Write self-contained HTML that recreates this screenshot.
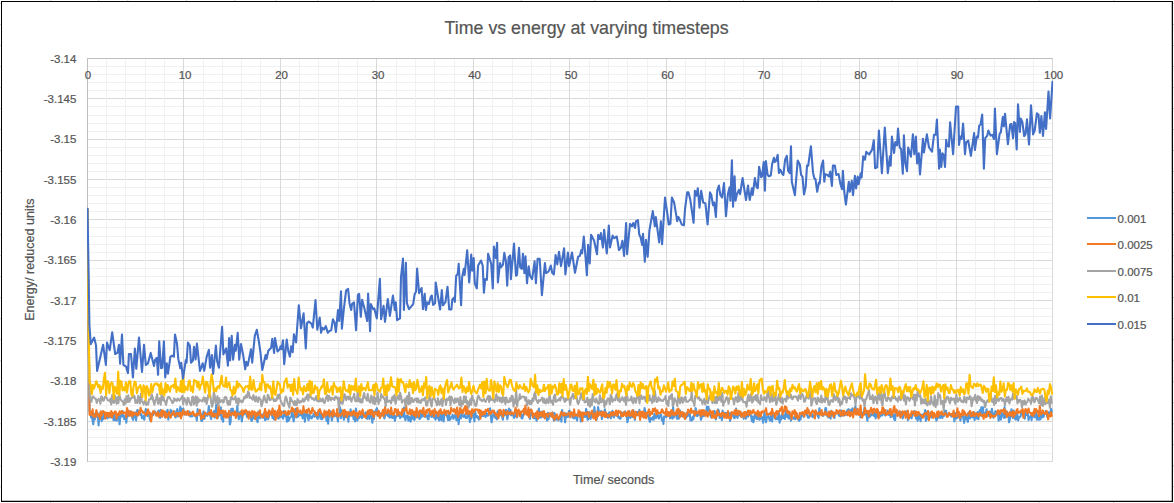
<!DOCTYPE html>
<html><head><meta charset="utf-8"><title>Time vs energy at varying timesteps</title>
<style>
html,body{margin:0;padding:0;background:#fff;}
body{width:1174px;height:503px;position:relative;overflow:hidden;font-family:"Liberation Sans",sans-serif;}
svg text{font-family:"Liberation Sans",sans-serif;fill:#555;stroke:#555;stroke-width:0.22px;}
.t{font-size:11.5px;}
.ax{font-size:12.6px;}
.ti{font-size:17.8px;}
</style></head><body>
<svg width="1174" height="503" viewBox="0 0 1174 503" style="position:absolute;left:0;top:0">
<path d="M87.0 98.5H1053.0M87.0 139.5H1053.0M87.0 179.5H1053.0M87.0 219.5H1053.0M87.0 260.5H1053.0M87.0 300.5H1053.0M87.0 340.5H1053.0M87.0 381.5H1053.0M87.0 421.5H1053.0M87.0 461.5H1053.0" stroke="#D9D9D9" stroke-width="1" fill="none"/>
<path d="M87.0 66.5H1053.0M87.0 74.5H1053.0M87.0 82.5H1053.0M87.0 90.5H1053.0M87.0 106.5H1053.0M87.0 115.5H1053.0M87.0 123.5H1053.0M87.0 131.5H1053.0M87.0 147.5H1053.0M87.0 155.5H1053.0M87.0 163.5H1053.0M87.0 171.5H1053.0M87.0 187.5H1053.0M87.0 195.5H1053.0M87.0 203.5H1053.0M87.0 211.5H1053.0M87.0 227.5H1053.0M87.0 236.5H1053.0M87.0 244.5H1053.0M87.0 252.5H1053.0M87.0 268.5H1053.0M87.0 276.5H1053.0M87.0 284.5H1053.0M87.0 292.5H1053.0M87.0 308.5H1053.0M87.0 316.5H1053.0M87.0 324.5H1053.0M87.0 332.5H1053.0M87.0 348.5H1053.0M87.0 357.5H1053.0M87.0 365.5H1053.0M87.0 373.5H1053.0M87.0 389.5H1053.0M87.0 397.5H1053.0M87.0 405.5H1053.0M87.0 413.5H1053.0M87.0 429.5H1053.0M87.0 437.5H1053.0M87.0 445.5H1053.0M87.0 453.5H1053.0" stroke="#F1F1F1" stroke-width="1" fill="none"/>
<path d="M183.5 58.0V462.0M280.5 58.0V462.0M376.5 58.0V462.0M473.5 58.0V462.0M569.5 58.0V462.0M666.5 58.0V462.0M763.5 58.0V462.0M859.5 58.0V462.0M956.5 58.0V462.0M1052.5 58.0V462.0" stroke="#D9D9D9" stroke-width="1" fill="none"/>
<path d="M106.5 58.0V462.0M125.5 58.0V462.0M145.5 58.0V462.0M164.5 58.0V462.0M203.5 58.0V462.0M222.5 58.0V462.0M241.5 58.0V462.0M260.5 58.0V462.0M299.5 58.0V462.0M318.5 58.0V462.0M338.5 58.0V462.0M357.5 58.0V462.0M396.5 58.0V462.0M415.5 58.0V462.0M434.5 58.0V462.0M454.5 58.0V462.0M492.5 58.0V462.0M512.5 58.0V462.0M531.5 58.0V462.0M550.5 58.0V462.0M589.5 58.0V462.0M608.5 58.0V462.0M627.5 58.0V462.0M647.5 58.0V462.0M685.5 58.0V462.0M705.5 58.0V462.0M724.5 58.0V462.0M743.5 58.0V462.0M782.5 58.0V462.0M801.5 58.0V462.0M820.5 58.0V462.0M840.5 58.0V462.0M878.5 58.0V462.0M898.5 58.0V462.0M917.5 58.0V462.0M936.5 58.0V462.0M975.5 58.0V462.0M994.5 58.0V462.0M1014.5 58.0V462.0M1033.5 58.0V462.0" stroke="#F1F1F1" stroke-width="1" fill="none"/>
<path d="M87.0 58.5H1053.0M87.5 58.0V462.0" stroke="#BFBFBF" stroke-width="1" fill="none"/>
<clipPath id="pc"><rect x="87" y="50" width="966.2" height="420"/></clipPath><g clip-path="url(#pc)">
<polyline points="87.5,209.0 88.2,300.0 89.6,412.1 90.3,412.4 91.1,417.4 91.8,416.2 92.6,420.6 93.3,424.2 94.1,413.7 94.8,419.5 95.6,417.0 96.3,413.2 97.1,412.0 97.8,414.2 98.6,425.5 99.3,415.0 100.1,415.5 100.8,411.5 101.6,421.3 102.3,418.0 103.1,419.2 103.8,412.6 104.6,418.3 105.3,416.1 106.1,416.8 106.8,417.9 107.6,418.3 108.3,415.6 109.1,417.2 109.8,417.3 110.6,417.4 111.3,415.7 112.1,417.2 112.8,415.7 113.6,420.2 114.3,414.5 115.1,419.9 115.8,417.8 116.6,420.8 117.3,418.4 118.1,419.5 118.8,414.5 119.6,424.3 120.3,416.2 121.1,414.7 121.8,416.4 122.6,411.1 123.3,415.6 124.1,419.1 124.8,418.5 125.6,415.4 126.3,422.6 127.1,414.6 127.8,416.5 128.6,413.1 129.3,413.0 130.1,411.4 130.8,411.4 131.6,415.2 132.3,417.7 133.1,419.9 133.8,416.1 134.6,412.5 135.3,413.6 136.1,420.5 136.8,411.2 137.6,409.8 138.3,415.0 139.1,412.9 139.8,411.0 140.6,415.1 141.3,414.1 142.1,418.3 142.8,416.7 143.6,415.9 144.3,419.8 145.1,412.4 145.8,409.1 146.6,412.4 147.3,415.9 148.1,415.3 148.8,412.2 149.6,417.9 150.3,420.6 151.1,413.6 151.8,414.7 152.6,413.9 153.3,414.9 154.1,412.4 154.8,411.3 155.6,413.3 156.3,414.4 157.1,413.7 157.8,411.9 158.6,410.5 159.3,415.4 160.1,417.9 160.8,409.9 161.6,411.4 162.3,415.6 163.1,412.3 163.8,415.0 164.6,415.2 165.3,417.4 166.1,411.6 166.8,413.8 167.6,409.7 168.3,419.7 169.1,414.9 169.8,414.7 170.6,409.7 171.3,411.2 172.1,415.0 172.8,411.5 173.6,411.4 174.3,411.3 175.1,416.8 175.8,417.3 176.6,411.1 177.3,409.0 178.1,416.4 178.8,413.9 179.6,412.3 180.3,406.9 181.1,413.1 181.8,408.8 182.6,411.3 183.3,408.6 184.1,413.6 184.8,414.6 185.6,411.8 186.3,414.0 187.1,414.4 187.8,411.9 188.6,412.8 189.3,411.5 190.1,416.4 190.8,415.0 191.6,416.5 192.3,416.2 193.1,415.5 193.8,413.8 194.6,415.5 195.3,416.3 196.1,416.2 196.8,420.4 197.6,409.1 198.3,413.2 199.1,414.6 199.8,410.3 200.6,415.0 201.3,420.8 202.1,421.1 202.8,414.5 203.6,411.3 204.3,418.9 205.1,416.0 205.8,413.2 206.6,414.3 207.3,415.9 208.1,412.3 208.8,406.1 209.6,414.6 210.3,415.4 211.1,419.0 211.8,414.4 212.6,413.6 213.3,413.5 214.1,411.1 214.8,417.6 215.6,411.4 216.3,404.6 217.1,412.3 217.8,417.9 218.6,414.1 219.3,415.4 220.1,415.0 220.8,407.4 221.6,419.1 222.3,418.6 223.1,421.8 223.8,413.6 224.6,414.6 225.3,412.4 226.1,414.1 226.8,413.4 227.6,415.5 228.3,417.3 229.1,411.2 229.8,424.4 230.6,422.0 231.3,408.7 232.1,409.6 232.8,408.6 233.6,415.2 234.3,414.5 235.1,414.9 235.8,414.5 236.6,413.3 237.3,405.9 238.1,415.4 238.8,419.3 239.6,414.0 240.3,411.8 241.1,415.2 241.8,421.5 242.6,416.2 243.3,411.7 244.1,414.2 244.8,413.4 245.6,413.0 246.3,413.0 247.1,417.0 247.8,411.8 248.6,413.5 249.3,412.9 250.1,414.3 250.8,418.6 251.6,421.0 252.3,419.5 253.1,415.1 253.8,417.9 254.6,418.4 255.3,415.2 256.1,413.4 256.9,419.9 257.6,422.2 258.4,411.6 259.1,415.4 259.9,418.2 260.6,414.8 261.4,415.2 262.1,417.4 262.9,414.6 263.6,417.8 264.4,412.4 265.1,420.1 265.9,419.4 266.6,417.2 267.4,417.0 268.1,419.3 268.9,416.6 269.6,411.5 270.4,412.9 271.1,413.3 271.9,414.7 272.6,418.0 273.4,417.4 274.1,419.5 274.9,413.8 275.6,413.7 276.4,417.9 277.1,416.3 277.9,416.4 278.6,418.8 279.4,416.1 280.1,409.9 280.9,417.0 281.6,416.3 282.4,416.4 283.1,418.7 283.9,411.1 284.6,416.3 285.4,415.0 286.1,414.9 286.9,421.7 287.6,413.2 288.4,420.9 289.1,419.9 289.9,417.5 290.6,417.2 291.4,416.4 292.1,410.2 292.9,414.5 293.6,421.5 294.4,416.5 295.1,415.6 295.9,408.9 296.6,417.4 297.4,410.5 298.1,416.8 298.9,414.2 299.6,415.1 300.4,415.2 301.1,413.8 301.9,414.2 302.6,418.4 303.4,413.3 304.1,413.5 304.9,421.6 305.6,414.5 306.4,413.8 307.1,413.1 307.9,418.2 308.6,420.1 309.4,414.3 310.1,417.8 310.9,416.4 311.6,418.5 312.4,416.9 313.1,415.7 313.9,413.6 314.6,416.8 315.4,415.0 316.1,413.0 316.9,417.3 317.6,418.9 318.4,415.4 319.1,411.0 319.9,414.7 320.6,418.8 321.4,414.2 322.1,419.3 322.9,416.6 323.6,414.2 324.4,416.0 325.1,413.2 325.9,414.9 326.6,420.9 327.4,413.1 328.1,423.7 328.9,414.9 329.6,415.0 330.4,411.4 331.1,415.1 331.9,420.5 332.6,415.3 333.4,416.2 334.1,416.5 334.9,414.8 335.6,414.6 336.4,416.2 337.1,416.0 337.9,421.4 338.6,414.0 339.4,414.7 340.1,407.2 340.9,418.2 341.6,410.3 342.4,413.0 343.1,415.7 343.9,419.7 344.6,415.7 345.4,417.0 346.1,412.8 346.9,414.2 347.6,414.6 348.4,421.7 349.1,412.5 349.9,416.0 350.6,409.3 351.4,415.4 352.1,415.1 352.9,414.4 353.6,419.2 354.4,412.8 355.1,421.4 355.9,408.6 356.6,413.4 357.4,420.6 358.1,416.4 358.9,418.2 359.6,417.0 360.4,416.4 361.1,415.1 361.9,418.3 362.6,412.4 363.4,416.6 364.1,414.2 364.9,415.4 365.6,412.3 366.4,413.5 367.1,418.9 367.9,414.2 368.6,411.8 369.4,419.0 370.1,415.7 370.9,415.0 371.6,415.7 372.4,422.8 373.1,411.3 373.9,419.0 374.6,411.8 375.4,412.6 376.1,409.8 376.9,408.2 377.6,415.5 378.4,415.7 379.1,416.2 379.9,413.0 380.6,414.3 381.4,414.0 382.1,415.6 382.9,411.9 383.6,415.0 384.4,418.4 385.1,415.6 385.9,414.8 386.6,412.4 387.4,413.9 388.1,416.2 388.9,412.7 389.6,417.6 390.4,417.1 391.1,410.6 391.9,417.7 392.6,417.9 393.4,417.8 394.1,415.0 394.9,420.9 395.6,416.4 396.4,416.6 397.1,414.8 397.9,415.8 398.6,415.8 399.4,413.9 400.1,418.1 400.9,417.1 401.6,416.3 402.4,414.0 403.1,416.7 403.9,407.5 404.6,417.3 405.4,420.2 406.1,416.1 406.9,416.2 407.6,415.7 408.4,420.6 409.1,416.7 409.9,418.8 410.6,421.7 411.4,416.6 412.1,414.6 412.9,418.8 413.6,415.6 414.4,420.0 415.1,415.9 415.9,417.4 416.6,414.5 417.4,417.4 418.1,417.2 418.9,414.2 419.6,419.1 420.4,418.3 421.1,412.4 421.9,416.7 422.6,413.8 423.4,414.6 424.1,416.4 424.9,414.9 425.6,416.8 426.4,415.3 427.1,415.3 427.9,419.3 428.6,419.2 429.4,412.6 430.1,415.6 430.9,413.5 431.6,417.0 432.4,413.4 433.1,415.1 433.9,417.7 434.6,414.7 435.4,419.6 436.1,417.4 436.9,414.1 437.6,418.2 438.4,417.5 439.1,420.5 439.9,417.4 440.6,413.1 441.4,420.1 442.1,413.3 442.9,415.4 443.6,421.5 444.4,413.6 445.1,414.5 445.9,414.0 446.6,415.4 447.4,417.0 448.1,420.1 448.9,411.8 449.6,420.0 450.4,419.1 451.1,417.5 451.9,417.0 452.6,414.9 453.4,418.8 454.1,415.6 454.9,417.0 455.6,415.3 456.4,420.2 457.1,417.8 457.9,412.9 458.6,424.1 459.4,415.7 460.1,415.3 460.9,418.4 461.6,413.2 462.4,414.9 463.1,416.4 463.9,417.0 464.6,414.7 465.4,417.1 466.1,418.0 466.9,418.0 467.6,414.6 468.4,415.9 469.1,414.8 469.9,422.1 470.6,418.2 471.4,418.5 472.1,413.5 472.9,415.7 473.6,414.0 474.4,421.4 475.1,411.0 475.9,416.5 476.6,417.1 477.4,416.1 478.1,418.0 478.9,419.6 479.6,416.9 480.4,417.0 481.1,416.5 481.9,411.7 482.6,415.9 483.4,416.1 484.1,412.4 484.9,413.4 485.6,417.1 486.4,413.0 487.1,414.9 487.9,415.8 488.6,413.6 489.4,412.5 490.1,408.3 490.9,417.0 491.6,422.3 492.4,417.6 493.1,414.9 493.9,411.8 494.6,416.2 495.4,417.9 496.1,414.1 496.9,419.3 497.6,411.2 498.4,417.0 499.1,413.0 499.9,415.4 500.6,414.1 501.4,411.3 502.1,416.5 502.9,419.7 503.6,413.5 504.4,415.2 505.1,412.1 505.9,409.8 506.6,414.6 507.4,419.2 508.1,414.3 508.9,408.6 509.6,413.9 510.4,409.8 511.1,415.3 511.9,415.2 512.6,415.1 513.4,415.3 514.1,418.0 514.9,415.8 515.6,409.7 516.4,416.3 517.1,417.4 517.9,412.4 518.6,412.8 519.4,413.8 520.1,415.3 520.9,413.2 521.6,418.3 522.4,418.5 523.1,414.9 523.9,413.9 524.6,410.7 525.4,412.2 526.1,413.3 526.9,413.7 527.6,414.9 528.4,409.9 529.1,415.9 529.9,418.9 530.6,409.6 531.4,414.5 532.1,414.7 532.9,416.2 533.6,418.2 534.4,414.5 535.1,418.2 535.9,414.8 536.6,420.8 537.4,412.8 538.1,412.6 538.9,408.6 539.6,417.6 540.4,411.7 541.1,417.5 541.9,413.3 542.6,415.4 543.4,411.2 544.1,417.4 544.9,415.0 545.6,414.1 546.4,414.2 547.1,420.4 547.9,412.7 548.6,419.1 549.4,413.7 550.1,416.1 550.9,414.3 551.6,414.9 552.4,412.3 553.1,416.5 553.9,420.6 554.6,413.1 555.4,419.2 556.1,419.7 556.9,416.1 557.6,417.9 558.4,420.5 559.1,419.3 559.9,416.4 560.6,415.2 561.4,421.6 562.1,410.0 562.9,415.2 563.6,414.8 564.4,415.1 565.1,422.3 565.9,413.4 566.6,417.3 567.4,416.0 568.1,416.9 568.9,411.0 569.6,410.7 570.4,414.4 571.1,413.5 571.9,412.9 572.6,417.6 573.4,416.2 574.1,418.5 574.9,416.0 575.6,417.5 576.4,418.0 577.1,420.6 577.9,413.2 578.6,415.3 579.4,415.5 580.1,414.9 580.9,421.5 581.6,415.5 582.4,412.8 583.1,417.1 583.9,416.6 584.6,413.2 585.4,417.0 586.1,408.9 586.9,412.1 587.6,419.8 588.4,418.6 589.1,412.1 589.9,413.8 590.6,418.9 591.4,413.4 592.1,416.7 592.9,412.4 593.6,416.6 594.4,407.1 595.1,414.4 595.9,414.3 596.6,419.9 597.4,414.1 598.1,407.1 598.9,411.4 599.6,414.5 600.4,414.9 601.1,411.1 601.9,419.1 602.6,415.3 603.4,415.4 604.1,413.8 604.9,409.3 605.6,413.5 606.4,413.9 607.1,413.9 607.9,417.9 608.6,413.9 609.4,412.3 610.1,414.3 610.9,418.4 611.6,412.3 612.4,410.9 613.1,415.3 613.9,417.4 614.6,415.4 615.4,413.6 616.1,412.0 616.9,415.8 617.6,413.8 618.4,417.7 619.1,417.2 619.9,418.8 620.6,418.6 621.4,412.2 622.1,413.4 622.9,416.2 623.6,412.9 624.4,412.1 625.1,411.4 625.9,413.6 626.6,413.1 627.4,422.3 628.1,419.1 628.9,411.0 629.6,411.7 630.4,417.9 631.1,416.3 631.9,415.5 632.6,416.8 633.4,410.2 634.1,415.6 634.9,419.9 635.6,413.3 636.4,414.8 637.1,411.9 637.9,412.6 638.6,415.5 639.4,409.8 640.1,415.5 640.9,413.0 641.6,416.2 642.4,413.5 643.1,416.3 643.9,415.4 644.6,408.1 645.4,412.1 646.1,414.9 646.9,416.4 647.6,414.3 648.4,415.6 649.1,419.2 649.9,421.9 650.6,418.1 651.4,418.7 652.1,419.5 652.9,417.2 653.6,419.8 654.4,413.8 655.1,416.0 655.9,418.2 656.6,416.6 657.4,413.6 658.1,417.1 658.9,418.6 659.6,415.4 660.4,415.4 661.1,414.8 661.9,420.1 662.6,418.5 663.4,423.9 664.1,416.4 664.9,417.2 665.6,416.4 666.4,417.0 667.1,414.2 667.9,415.8 668.6,413.8 669.4,413.9 670.1,418.4 670.9,412.3 671.6,417.2 672.4,418.6 673.1,406.6 673.9,417.5 674.6,413.8 675.4,415.1 676.1,413.5 676.9,418.6 677.6,418.9 678.4,411.7 679.1,418.4 679.9,410.2 680.6,413.9 681.4,416.1 682.1,415.9 682.9,412.9 683.6,412.9 684.4,417.8 685.1,416.7 685.9,418.1 686.6,413.0 687.4,416.5 688.1,415.5 688.9,415.0 689.6,412.0 690.4,420.3 691.1,418.7 691.9,420.6 692.6,416.9 693.4,419.1 694.1,414.9 694.9,415.2 695.6,408.1 696.4,411.6 697.1,416.2 697.9,415.5 698.6,413.4 699.4,414.6 700.1,411.6 700.9,419.8 701.6,417.9 702.4,414.3 703.1,410.6 703.9,416.1 704.6,413.5 705.4,411.7 706.1,414.5 706.9,406.6 707.6,411.3 708.4,406.7 709.1,410.1 709.9,410.2 710.6,415.8 711.4,417.6 712.1,414.1 712.9,411.8 713.6,413.5 714.4,410.9 715.1,412.5 715.9,419.4 716.6,415.8 717.4,412.5 718.1,409.4 718.9,410.9 719.6,418.0 720.4,416.9 721.1,416.6 721.9,420.1 722.6,410.6 723.4,415.9 724.1,416.1 724.9,412.7 725.6,415.4 726.4,413.0 727.1,413.3 727.9,413.7 728.6,412.7 729.4,413.3 730.1,420.9 730.9,413.3 731.6,413.8 732.4,413.2 733.1,415.9 733.9,417.8 734.6,418.2 735.4,415.3 736.1,408.6 736.9,416.8 737.6,417.9 738.4,411.5 739.1,414.9 739.9,413.7 740.6,416.3 741.4,413.0 742.1,414.9 742.9,413.7 743.6,418.6 744.4,416.0 745.1,412.3 745.9,418.6 746.6,412.3 747.4,414.2 748.1,416.7 748.9,413.3 749.6,412.9 750.4,414.1 751.1,416.4 751.9,421.1 752.6,416.6 753.4,422.2 754.1,418.3 754.9,414.5 755.6,415.1 756.4,418.7 757.1,419.2 757.9,415.8 758.6,415.5 759.4,419.7 760.1,418.2 760.9,418.6 761.6,417.9 762.4,417.2 763.1,422.6 763.9,416.3 764.6,412.8 765.4,418.4 766.1,422.2 766.9,417.4 767.6,416.8 768.4,415.5 769.1,418.2 769.9,420.6 770.6,418.0 771.4,414.7 772.1,421.5 772.9,415.0 773.6,415.0 774.4,414.0 775.1,418.4 775.9,419.3 776.6,417.7 777.4,419.1 778.1,414.8 778.9,413.8 779.6,422.6 780.4,416.6 781.1,419.5 781.9,414.3 782.6,417.5 783.4,418.0 784.1,415.3 784.9,419.0 785.6,412.7 786.4,410.0 787.1,416.9 787.9,414.5 788.6,418.5 789.4,416.8 790.1,413.4 790.9,420.6 791.6,418.7 792.4,417.5 793.1,418.1 793.9,418.8 794.6,416.3 795.4,419.1 796.1,418.2 796.9,413.7 797.6,417.0 798.4,419.5 799.1,420.9 799.9,418.1 800.6,419.4 801.4,414.6 802.1,415.5 802.9,413.4 803.6,416.9 804.4,414.6 805.1,410.7 805.9,412.6 806.6,414.0 807.4,415.7 808.1,417.7 808.9,417.8 809.6,415.5 810.4,415.8 811.1,415.8 811.9,414.3 812.6,417.2 813.4,416.4 814.1,415.6 814.9,413.9 815.6,412.2 816.4,411.7 817.1,414.1 817.9,416.1 818.6,417.9 819.4,408.2 820.1,411.7 820.9,412.9 821.6,414.3 822.4,415.4 823.1,415.9 823.9,414.8 824.6,413.8 825.4,408.1 826.1,408.3 826.9,415.7 827.6,415.5 828.4,417.5 829.1,412.3 829.9,412.4 830.6,418.7 831.4,410.8 832.1,414.8 832.9,413.7 833.6,416.4 834.4,418.0 835.1,413.3 835.9,412.3 836.6,411.2 837.4,412.1 838.1,413.2 838.9,415.7 839.6,414.4 840.4,416.3 841.1,410.4 841.9,414.6 842.6,415.6 843.4,415.2 844.1,413.1 844.9,415.3 845.6,412.2 846.4,414.7 847.1,411.0 847.9,409.6 848.6,409.2 849.4,413.0 850.1,415.8 850.9,409.7 851.6,414.0 852.4,408.3 853.1,411.6 853.9,413.2 854.6,409.5 855.4,406.0 856.1,412.4 856.9,414.5 857.6,409.4 858.4,412.9 859.1,413.8 859.9,412.3 860.6,417.3 861.4,412.6 862.1,412.8 862.9,412.9 863.6,414.4 864.4,407.8 865.1,414.3 865.9,411.7 866.6,415.6 867.4,420.6 868.1,412.7 868.9,414.9 869.6,417.2 870.4,416.2 871.1,414.2 871.9,414.9 872.6,412.9 873.4,415.5 874.1,415.9 874.9,412.7 875.6,418.4 876.4,413.1 877.1,414.4 877.9,416.8 878.6,412.1 879.4,412.4 880.1,416.7 880.9,415.2 881.6,413.8 882.4,415.3 883.1,412.5 883.9,409.2 884.6,413.5 885.4,415.5 886.1,414.5 886.9,413.4 887.6,410.6 888.4,414.7 889.1,414.9 889.9,410.3 890.6,417.1 891.4,416.8 892.1,416.5 892.9,414.3 893.6,415.0 894.4,419.7 895.1,420.1 895.9,412.1 896.6,413.2 897.4,411.3 898.1,412.6 898.9,414.5 899.6,415.7 900.4,413.2 901.1,412.1 901.9,412.0 902.6,418.4 903.4,415.6 904.1,414.9 904.9,411.6 905.6,412.5 906.4,416.1 907.1,411.0 907.9,420.3 908.6,418.1 909.4,417.7 910.1,417.3 910.9,416.7 911.6,418.3 912.4,414.3 913.1,414.3 913.9,412.2 914.6,411.2 915.4,414.0 916.1,418.5 916.9,416.9 917.6,420.8 918.4,414.7 919.1,418.6 919.9,414.8 920.6,421.1 921.4,414.9 922.1,416.9 922.9,415.5 923.6,413.9 924.4,416.0 925.1,410.1 925.9,420.9 926.6,417.0 927.4,411.4 928.1,418.9 928.9,416.1 929.6,416.4 930.4,412.5 931.1,417.4 931.9,417.5 932.6,414.3 933.4,415.1 934.1,415.8 934.9,415.5 935.6,416.6 936.4,420.6 937.1,419.1 937.9,416.4 938.6,417.5 939.4,414.3 940.1,417.9 940.9,415.5 941.6,412.3 942.4,418.0 943.1,415.3 943.9,416.0 944.6,410.6 945.4,414.1 946.1,410.9 946.9,415.9 947.6,414.5 948.4,415.0 949.1,415.0 949.9,414.4 950.6,414.5 951.4,416.6 952.1,414.9 952.9,414.3 953.6,412.3 954.4,421.4 955.1,416.2 955.9,413.1 956.6,418.1 957.4,417.4 958.1,416.1 958.9,416.3 959.6,416.0 960.4,420.6 961.1,415.5 961.9,415.5 962.6,414.4 963.4,418.1 964.1,422.9 964.9,418.7 965.6,414.5 966.4,418.0 967.1,419.7 967.9,421.8 968.6,412.6 969.4,412.1 970.1,418.4 970.9,412.8 971.6,412.9 972.4,417.4 973.1,415.0 973.9,412.1 974.6,420.1 975.4,413.6 976.1,413.6 976.9,418.5 977.6,412.1 978.4,419.2 979.1,413.6 979.9,410.0 980.6,413.6 981.4,407.4 982.1,416.1 982.9,407.3 983.6,416.0 984.4,416.4 985.1,412.9 985.9,412.4 986.6,409.2 987.4,415.7 988.1,414.0 988.9,415.8 989.6,411.6 990.4,416.5 991.1,415.7 991.9,408.7 992.6,415.0 993.4,417.7 994.1,415.4 994.9,412.1 995.6,411.1 996.4,412.7 997.1,413.6 997.9,411.7 998.6,420.7 999.4,415.3 1000.1,416.8 1000.9,419.7 1001.6,413.0 1002.4,414.0 1003.1,414.9 1003.9,418.0 1004.6,407.1 1005.4,417.4 1006.1,411.9 1006.9,411.5 1007.6,413.6 1008.4,415.2 1009.1,422.3 1009.9,418.7 1010.6,415.4 1011.4,409.3 1012.1,415.0 1012.9,418.1 1013.6,410.5 1014.4,416.7 1015.1,419.0 1015.9,419.5 1016.6,412.7 1017.4,415.0 1018.1,420.4 1018.9,417.5 1019.6,417.1 1020.4,416.8 1021.1,413.7 1021.9,411.6 1022.6,413.8 1023.4,415.4 1024.1,415.0 1024.8,418.6 1025.6,412.8 1026.3,414.9 1027.1,414.1 1027.8,413.6 1028.6,420.0 1029.3,417.0 1030.1,417.5 1030.8,415.4 1031.6,420.1 1032.3,414.2 1033.1,416.7 1033.8,412.1 1034.6,417.1 1035.3,414.8 1036.1,412.9 1036.8,419.6 1037.6,415.4 1038.3,419.5 1039.1,417.3 1039.8,419.6 1040.6,419.0 1041.3,413.3 1042.1,417.3 1042.8,413.1 1043.6,416.9 1044.3,413.4 1045.1,413.0 1045.8,411.1 1046.6,412.9 1047.3,416.8 1048.1,415.7 1048.8,412.2 1049.6,415.7 1050.3,413.0 1051.1,408.8 1051.8,411.9" fill="none" stroke="#5197DA" stroke-width="2.1" stroke-linejoin="round" stroke-linecap="round"/>
<polyline points="87.5,209.0 88.2,300.0 89.6,414.7 90.3,414.9 91.1,412.1 91.8,414.6 92.6,409.3 93.3,416.6 94.1,415.4 94.8,415.3 95.6,417.1 96.3,410.0 97.1,413.6 97.8,414.4 98.6,416.4 99.3,414.0 100.1,419.0 100.8,411.5 101.6,415.4 102.3,411.9 103.1,411.1 103.8,412.5 104.6,412.2 105.3,418.6 106.1,412.7 106.8,415.1 107.6,412.9 108.3,416.8 109.1,412.9 109.8,416.2 110.6,416.0 111.3,411.0 112.1,417.5 112.8,412.9 113.6,413.9 114.3,413.4 115.1,411.4 115.8,411.7 116.6,418.6 117.3,414.1 118.1,413.8 118.8,415.1 119.6,411.3 120.3,413.6 121.1,413.6 121.8,411.0 122.6,412.5 123.3,413.4 124.1,412.4 124.8,412.6 125.6,412.5 126.3,417.0 127.1,408.1 127.8,413.2 128.6,410.8 129.3,415.6 130.1,415.6 130.8,411.6 131.6,412.2 132.3,416.4 133.1,412.2 133.8,414.7 134.6,413.8 135.3,414.2 136.1,412.6 136.8,415.1 137.6,415.6 138.3,413.5 139.1,411.5 139.8,413.8 140.6,407.7 141.3,410.6 142.1,410.9 142.8,412.7 143.6,412.0 144.3,413.3 145.1,413.2 145.8,415.5 146.6,414.9 147.3,411.5 148.1,409.4 148.8,413.5 149.6,412.4 150.3,414.3 151.1,421.4 151.8,416.5 152.6,413.6 153.3,411.1 154.1,411.7 154.8,412.8 155.6,413.3 156.3,415.8 157.1,414.7 157.8,412.0 158.6,416.6 159.3,414.5 160.1,413.3 160.8,415.7 161.6,410.5 162.3,416.9 163.1,410.6 163.8,412.6 164.6,411.7 165.3,417.2 166.1,413.2 166.8,417.3 167.6,414.4 168.3,413.6 169.1,411.9 169.8,416.7 170.6,417.7 171.3,415.3 172.1,413.3 172.8,412.9 173.6,411.4 174.3,415.1 175.1,416.0 175.8,415.9 176.6,412.9 177.3,414.0 178.1,413.6 178.8,412.9 179.6,416.4 180.3,412.6 181.1,418.4 181.8,412.9 182.6,414.8 183.3,410.0 184.1,412.8 184.8,414.1 185.6,412.0 186.3,414.8 187.1,414.0 187.8,410.9 188.6,415.2 189.3,414.0 190.1,414.6 190.8,413.0 191.6,413.8 192.3,412.3 193.1,411.6 193.8,415.0 194.6,414.0 195.3,415.9 196.1,415.8 196.8,413.7 197.6,415.0 198.3,413.2 199.1,413.4 199.8,409.9 200.6,414.3 201.3,419.0 202.1,416.4 202.8,415.9 203.6,417.7 204.3,414.4 205.1,412.5 205.8,414.1 206.6,414.4 207.3,414.5 208.1,414.5 208.8,412.5 209.6,413.5 210.3,414.5 211.1,410.1 211.8,416.2 212.6,412.9 213.3,415.9 214.1,416.6 214.8,413.9 215.6,414.0 216.3,414.5 217.1,418.5 217.8,413.9 218.6,405.5 219.3,414.5 220.1,411.6 220.8,410.5 221.6,413.1 222.3,412.0 223.1,410.6 223.8,417.0 224.6,412.2 225.3,411.0 226.1,417.8 226.8,414.0 227.6,413.9 228.3,417.4 229.1,410.7 229.8,413.5 230.6,414.8 231.3,415.4 232.1,413.1 232.8,412.5 233.6,414.4 234.3,414.9 235.1,411.2 235.8,418.0 236.6,414.8 237.3,413.4 238.1,413.5 238.8,414.5 239.6,414.1 240.3,413.7 241.1,413.4 241.8,410.2 242.6,415.7 243.3,413.7 244.1,410.5 244.8,412.3 245.6,410.0 246.3,410.7 247.1,414.0 247.8,412.7 248.6,418.6 249.3,411.6 250.1,413.8 250.8,412.7 251.6,416.8 252.3,410.8 253.1,413.1 253.8,414.2 254.6,411.7 255.3,419.1 256.1,413.1 256.9,415.8 257.6,412.7 258.4,414.7 259.1,413.7 259.9,410.3 260.6,415.6 261.4,417.1 262.1,415.8 262.9,417.4 263.6,414.7 264.4,413.2 265.1,408.8 265.9,416.1 266.6,412.2 267.4,417.4 268.1,416.7 268.9,410.4 269.6,411.0 270.4,412.4 271.1,414.6 271.9,411.5 272.6,408.4 273.4,414.6 274.1,415.4 274.9,410.8 275.6,419.9 276.4,412.2 277.1,417.1 277.9,410.3 278.6,416.2 279.4,405.6 280.1,411.1 280.9,415.3 281.6,411.6 282.4,412.1 283.1,412.9 283.9,412.9 284.6,412.8 285.4,411.3 286.1,414.5 286.9,414.9 287.6,414.3 288.4,410.8 289.1,414.3 289.9,411.8 290.6,411.7 291.4,410.3 292.1,407.6 292.9,411.3 293.6,409.1 294.4,410.5 295.1,414.7 295.9,416.6 296.6,415.3 297.4,407.8 298.1,411.4 298.9,411.4 299.6,412.2 300.4,410.4 301.1,413.5 301.9,412.3 302.6,413.4 303.4,406.4 304.1,410.9 304.9,411.6 305.6,412.5 306.4,410.1 307.1,413.1 307.9,409.8 308.6,408.7 309.4,411.0 310.1,413.4 310.9,411.4 311.6,413.1 312.4,408.0 313.1,410.3 313.9,411.0 314.6,411.2 315.4,414.0 316.1,415.7 316.9,414.2 317.6,414.9 318.4,410.3 319.1,410.6 319.9,409.2 320.6,411.3 321.4,413.7 322.1,413.7 322.9,415.7 323.6,417.6 324.4,410.6 325.1,415.0 325.9,415.6 326.6,411.5 327.4,412.9 328.1,414.5 328.9,410.1 329.6,416.2 330.4,414.2 331.1,414.0 331.9,411.5 332.6,416.6 333.4,409.9 334.1,413.0 334.9,414.6 335.6,414.0 336.4,415.7 337.1,409.1 337.9,416.4 338.6,415.7 339.4,414.0 340.1,415.7 340.9,414.4 341.6,414.1 342.4,412.7 343.1,410.4 343.9,416.2 344.6,409.8 345.4,413.7 346.1,411.7 346.9,417.3 347.6,412.2 348.4,414.4 349.1,412.2 349.9,414.1 350.6,413.2 351.4,415.5 352.1,412.0 352.9,414.4 353.6,410.8 354.4,412.0 355.1,415.8 355.9,412.9 356.6,412.6 357.4,417.6 358.1,414.8 358.9,413.0 359.6,411.0 360.4,415.0 361.1,413.1 361.9,412.4 362.6,409.6 363.4,414.9 364.1,416.3 364.9,415.4 365.6,417.7 366.4,415.1 367.1,413.4 367.9,410.9 368.6,414.3 369.4,410.1 370.1,410.1 370.9,414.5 371.6,409.7 372.4,412.0 373.1,416.2 373.9,417.1 374.6,412.8 375.4,412.0 376.1,413.7 376.9,412.7 377.6,415.4 378.4,410.5 379.1,411.4 379.9,418.1 380.6,416.7 381.4,413.8 382.1,413.6 382.9,409.9 383.6,416.2 384.4,410.6 385.1,407.1 385.9,413.4 386.6,411.9 387.4,413.1 388.1,409.4 388.9,411.6 389.6,411.3 390.4,414.2 391.1,407.5 391.9,413.2 392.6,414.2 393.4,415.0 394.1,413.1 394.9,409.1 395.6,409.0 396.4,411.6 397.1,415.3 397.9,409.6 398.6,414.3 399.4,412.3 400.1,413.5 400.9,412.5 401.6,415.1 402.4,409.1 403.1,411.8 403.9,409.7 404.6,410.1 405.4,410.5 406.1,405.9 406.9,411.7 407.6,413.8 408.4,413.9 409.1,412.9 409.9,409.4 410.6,414.6 411.4,412.1 412.1,409.9 412.9,413.3 413.6,415.0 414.4,411.6 415.1,415.0 415.9,416.9 416.6,408.1 417.4,413.1 418.1,412.5 418.9,416.4 419.6,410.5 420.4,410.5 421.1,410.5 421.9,413.2 422.6,412.4 423.4,407.7 424.1,413.9 424.9,416.3 425.6,413.1 426.4,410.0 427.1,412.8 427.9,409.5 428.6,410.4 429.4,408.9 430.1,412.8 430.9,415.0 431.6,411.5 432.4,410.6 433.1,412.5 433.9,416.4 434.6,409.0 435.4,413.5 436.1,411.5 436.9,412.8 437.6,412.5 438.4,416.2 439.1,410.7 439.9,413.0 440.6,409.3 441.4,413.3 442.1,413.9 442.9,412.3 443.6,413.0 444.4,409.9 445.1,412.8 445.9,414.8 446.6,411.1 447.4,411.8 448.1,410.7 448.9,413.8 449.6,412.9 450.4,413.7 451.1,407.8 451.9,410.0 452.6,410.8 453.4,411.6 454.1,409.1 454.9,410.6 455.6,413.7 456.4,410.8 457.1,407.6 457.9,416.9 458.6,415.0 459.4,413.1 460.1,408.0 460.9,412.6 461.6,409.6 462.4,413.3 463.1,412.8 463.9,409.3 464.6,407.5 465.4,406.1 466.1,413.9 466.9,406.2 467.6,409.6 468.4,414.1 469.1,413.1 469.9,411.1 470.6,411.7 471.4,416.6 472.1,409.3 472.9,410.1 473.6,412.3 474.4,411.4 475.1,409.3 475.9,409.6 476.6,409.7 477.4,409.4 478.1,410.5 478.9,412.9 479.6,409.9 480.4,418.6 481.1,410.7 481.9,413.6 482.6,414.8 483.4,411.7 484.1,412.4 484.9,414.1 485.6,409.9 486.4,410.4 487.1,411.0 487.9,408.8 488.6,411.4 489.4,414.6 490.1,411.7 490.9,413.7 491.6,411.9 492.4,410.7 493.1,411.7 493.9,410.5 494.6,413.4 495.4,413.0 496.1,415.8 496.9,414.0 497.6,414.0 498.4,418.2 499.1,410.1 499.9,414.7 500.6,410.0 501.4,414.3 502.1,413.5 502.9,416.7 503.6,409.7 504.4,411.7 505.1,412.9 505.9,414.4 506.6,414.2 507.4,411.1 508.1,413.7 508.9,413.1 509.6,412.9 510.4,414.4 511.1,412.2 511.9,412.5 512.6,413.2 513.4,414.4 514.1,413.1 514.9,411.3 515.6,407.8 516.4,410.8 517.1,416.6 517.9,411.9 518.6,409.5 519.4,412.6 520.1,416.3 520.9,411.5 521.6,412.4 522.4,411.1 523.1,410.9 523.9,408.9 524.6,414.4 525.4,405.6 526.1,412.3 526.9,414.1 527.6,415.3 528.4,407.6 529.1,417.1 529.9,410.0 530.6,411.5 531.4,409.6 532.1,411.7 532.9,417.4 533.6,413.5 534.4,415.0 535.1,415.5 535.9,412.8 536.6,417.3 537.4,411.1 538.1,418.9 538.9,414.9 539.6,412.6 540.4,415.7 541.1,413.8 541.9,411.8 542.6,416.6 543.4,415.9 544.1,411.2 544.9,418.5 545.6,414.0 546.4,414.7 547.1,414.2 547.9,416.7 548.6,413.8 549.4,413.5 550.1,413.3 550.9,414.1 551.6,416.8 552.4,412.7 553.1,417.3 553.9,418.5 554.6,419.9 555.4,415.7 556.1,417.4 556.9,414.5 557.6,416.5 558.4,419.2 559.1,418.7 559.9,416.3 560.6,414.0 561.4,411.8 562.1,413.7 562.9,415.4 563.6,415.7 564.4,412.8 565.1,415.1 565.9,415.1 566.6,414.8 567.4,414.0 568.1,414.2 568.9,412.5 569.6,413.2 570.4,417.2 571.1,412.4 571.9,413.0 572.6,412.8 573.4,416.5 574.1,409.4 574.9,415.1 575.6,415.4 576.4,414.7 577.1,415.2 577.9,415.8 578.6,410.2 579.4,416.6 580.1,411.9 580.9,413.8 581.6,412.6 582.4,421.1 583.1,412.6 583.9,414.7 584.6,412.9 585.4,413.0 586.1,414.7 586.9,412.5 587.6,412.3 588.4,412.3 589.1,417.3 589.9,414.0 590.6,413.4 591.4,412.0 592.1,410.6 592.9,416.5 593.6,418.4 594.4,415.4 595.1,413.2 595.9,420.1 596.6,417.1 597.4,411.3 598.1,416.0 598.9,414.0 599.6,412.3 600.4,414.3 601.1,412.5 601.9,416.0 602.6,411.7 603.4,412.3 604.1,415.8 604.9,417.0 605.6,412.4 606.4,416.9 607.1,415.0 607.9,414.7 608.6,415.3 609.4,417.0 610.1,414.9 610.9,412.7 611.6,413.0 612.4,415.5 613.1,412.0 613.9,413.6 614.6,415.1 615.4,412.1 616.1,410.5 616.9,415.6 617.6,414.9 618.4,410.9 619.1,412.7 619.9,411.3 620.6,411.9 621.4,416.2 622.1,413.5 622.9,416.0 623.6,415.1 624.4,411.8 625.1,413.9 625.9,416.1 626.6,412.9 627.4,415.8 628.1,411.2 628.9,411.1 629.6,415.7 630.4,414.0 631.1,415.4 631.9,411.1 632.6,410.2 633.4,416.9 634.1,412.5 634.9,418.3 635.6,411.9 636.4,414.8 637.1,415.3 637.9,414.8 638.6,413.3 639.4,411.6 640.1,420.0 640.9,411.9 641.6,411.7 642.4,416.5 643.1,411.6 643.9,417.8 644.6,412.7 645.4,414.2 646.1,418.3 646.9,412.9 647.6,412.9 648.4,411.0 649.1,409.4 649.9,415.8 650.6,412.2 651.4,413.2 652.1,414.0 652.9,408.9 653.6,411.2 654.4,411.2 655.1,408.2 655.9,411.3 656.6,414.5 657.4,410.4 658.1,413.1 658.9,412.7 659.6,412.8 660.4,413.0 661.1,412.4 661.9,409.3 662.6,410.3 663.4,412.9 664.1,412.9 664.9,412.3 665.6,415.2 666.4,408.6 667.1,415.1 667.9,416.0 668.6,412.0 669.4,412.9 670.1,416.2 670.9,411.0 671.6,410.2 672.4,414.4 673.1,411.6 673.9,415.4 674.6,413.9 675.4,412.6 676.1,414.8 676.9,409.5 677.6,413.8 678.4,408.5 679.1,411.3 679.9,417.2 680.6,412.0 681.4,412.8 682.1,412.1 682.9,416.6 683.6,412.8 684.4,413.5 685.1,419.0 685.9,414.5 686.6,415.1 687.4,413.9 688.1,409.5 688.9,410.8 689.6,410.6 690.4,413.3 691.1,408.6 691.9,412.4 692.6,412.3 693.4,411.0 694.1,413.4 694.9,415.7 695.6,411.4 696.4,413.4 697.1,412.2 697.9,413.1 698.6,413.5 699.4,410.2 700.1,413.3 700.9,416.2 701.6,410.0 702.4,410.4 703.1,414.7 703.9,410.3 704.6,414.0 705.4,415.7 706.1,411.4 706.9,414.8 707.6,416.7 708.4,412.9 709.1,414.8 709.9,410.5 710.6,411.9 711.4,411.6 712.1,417.6 712.9,411.4 713.6,414.9 714.4,417.9 715.1,415.7 715.9,417.9 716.6,414.3 717.4,410.3 718.1,415.3 718.9,414.1 719.6,413.8 720.4,415.6 721.1,416.1 721.9,412.5 722.6,413.7 723.4,413.1 724.1,417.6 724.9,413.8 725.6,414.2 726.4,418.1 727.1,415.7 727.9,411.1 728.6,417.9 729.4,416.9 730.1,418.1 730.9,418.6 731.6,412.1 732.4,412.5 733.1,413.9 733.9,413.2 734.6,410.4 735.4,414.7 736.1,409.9 736.9,414.3 737.6,415.2 738.4,410.7 739.1,411.4 739.9,414.0 740.6,411.6 741.4,417.0 742.1,415.2 742.9,414.4 743.6,412.6 744.4,417.1 745.1,411.7 745.9,413.3 746.6,415.2 747.4,414.4 748.1,410.5 748.9,411.3 749.6,414.9 750.4,410.9 751.1,412.9 751.9,413.4 752.6,411.8 753.4,409.9 754.1,412.5 754.9,413.1 755.6,412.6 756.4,414.6 757.1,412.6 757.9,410.8 758.6,416.4 759.4,412.2 760.1,413.1 760.9,416.4 761.6,411.7 762.4,411.3 763.1,412.4 763.9,411.3 764.6,410.9 765.4,410.5 766.1,408.2 766.9,414.9 767.6,413.8 768.4,414.1 769.1,414.0 769.9,413.7 770.6,412.3 771.4,415.3 772.1,408.9 772.9,412.6 773.6,413.1 774.4,413.7 775.1,417.9 775.9,412.4 776.6,411.0 777.4,414.6 778.1,411.3 778.9,412.1 779.6,410.9 780.4,408.5 781.1,410.4 781.9,406.7 782.6,414.5 783.4,410.9 784.1,411.5 784.9,406.2 785.6,409.6 786.4,407.2 787.1,412.7 787.9,411.0 788.6,413.4 789.4,411.8 790.1,414.0 790.9,415.2 791.6,418.9 792.4,411.3 793.1,414.1 793.9,413.6 794.6,410.1 795.4,416.7 796.1,412.4 796.9,415.0 797.6,418.8 798.4,416.5 799.1,417.5 799.9,412.8 800.6,413.4 801.4,413.7 802.1,412.4 802.9,412.1 803.6,415.2 804.4,416.3 805.1,410.6 805.9,411.6 806.6,413.6 807.4,408.0 808.1,413.1 808.9,410.6 809.6,414.1 810.4,415.6 811.1,412.9 811.9,412.3 812.6,410.4 813.4,411.2 814.1,412.4 814.9,418.4 815.6,410.3 816.4,413.4 817.1,413.1 817.9,413.9 818.6,414.0 819.4,412.4 820.1,414.8 820.9,414.3 821.6,410.0 822.4,415.6 823.1,414.3 823.9,414.2 824.6,412.5 825.4,411.7 826.1,414.9 826.9,413.7 827.6,413.3 828.4,416.4 829.1,411.6 829.9,416.2 830.6,414.8 831.4,411.1 832.1,413.2 832.9,412.0 833.6,417.0 834.4,412.7 835.1,413.8 835.9,413.9 836.6,410.0 837.4,411.6 838.1,413.2 838.9,411.4 839.6,410.3 840.4,413.4 841.1,415.7 841.9,412.9 842.6,410.9 843.4,415.5 844.1,410.8 844.9,412.4 845.6,414.4 846.4,412.6 847.1,413.7 847.9,415.4 848.6,410.9 849.4,411.8 850.1,416.3 850.9,414.5 851.6,412.3 852.4,413.7 853.1,417.4 853.9,412.2 854.6,408.4 855.4,412.7 856.1,414.5 856.9,414.3 857.6,408.9 858.4,413.7 859.1,415.0 859.9,410.6 860.6,405.5 861.4,415.1 862.1,417.7 862.9,414.6 863.6,415.3 864.4,411.2 865.1,407.8 865.9,413.0 866.6,411.6 867.4,410.9 868.1,413.3 868.9,416.3 869.6,410.6 870.4,411.6 871.1,407.9 871.9,410.6 872.6,413.7 873.4,409.6 874.1,408.7 874.9,409.6 875.6,412.6 876.4,412.6 877.1,408.9 877.9,410.0 878.6,418.5 879.4,412.7 880.1,413.8 880.9,412.1 881.6,413.6 882.4,407.4 883.1,407.6 883.9,413.1 884.6,413.0 885.4,410.1 886.1,415.1 886.9,413.2 887.6,414.1 888.4,411.8 889.1,413.4 889.9,409.2 890.6,409.0 891.4,415.6 892.1,413.6 892.9,412.2 893.6,407.8 894.4,406.1 895.1,412.6 895.9,411.7 896.6,409.6 897.4,415.9 898.1,412.9 898.9,414.6 899.6,411.1 900.4,417.7 901.1,414.8 901.9,415.3 902.6,411.4 903.4,411.7 904.1,414.0 904.9,411.4 905.6,417.8 906.4,413.4 907.1,416.5 907.9,410.6 908.6,418.8 909.4,415.5 910.1,414.7 910.9,415.8 911.6,411.4 912.4,413.0 913.1,411.5 913.9,412.0 914.6,415.7 915.4,414.8 916.1,411.5 916.9,415.7 917.6,414.6 918.4,411.9 919.1,413.1 919.9,414.6 920.6,414.7 921.4,416.3 922.1,416.0 922.9,417.8 923.6,416.7 924.4,413.6 925.1,414.0 925.9,413.2 926.6,414.6 927.4,414.0 928.1,411.1 928.9,420.1 929.6,416.9 930.4,416.1 931.1,412.4 931.9,411.4 932.6,414.5 933.4,417.9 934.1,412.9 934.9,416.3 935.6,416.9 936.4,415.7 937.1,412.1 937.9,416.9 938.6,411.4 939.4,413.0 940.1,414.5 940.9,414.5 941.6,411.4 942.4,413.8 943.1,415.1 943.9,414.2 944.6,413.9 945.4,412.9 946.1,413.9 946.9,416.9 947.6,416.8 948.4,415.4 949.1,412.7 949.9,414.5 950.6,414.6 951.4,414.1 952.1,413.9 952.9,416.8 953.6,410.5 954.4,416.8 955.1,415.0 955.9,415.0 956.6,416.3 957.4,408.3 958.1,413.8 958.9,411.9 959.6,418.0 960.4,416.0 961.1,413.6 961.9,415.4 962.6,410.1 963.4,414.8 964.1,411.2 964.9,412.6 965.6,414.9 966.4,415.3 967.1,415.6 967.9,413.9 968.6,412.8 969.4,413.3 970.1,410.9 970.9,416.0 971.6,414.2 972.4,415.7 973.1,412.0 973.9,412.9 974.6,416.0 975.4,415.2 976.1,413.3 976.9,413.6 977.6,414.7 978.4,416.3 979.1,413.9 979.9,413.1 980.6,415.5 981.4,415.3 982.1,415.1 982.9,414.7 983.6,418.7 984.4,414.0 985.1,417.2 985.9,414.8 986.6,416.9 987.4,411.9 988.1,413.1 988.9,411.9 989.6,412.8 990.4,417.9 991.1,414.4 991.9,416.4 992.6,416.5 993.4,415.6 994.1,416.5 994.9,416.5 995.6,415.6 996.4,414.2 997.1,414.0 997.9,410.4 998.6,410.5 999.4,414.3 1000.1,413.2 1000.9,410.4 1001.6,410.3 1002.4,411.5 1003.1,410.1 1003.9,409.0 1004.6,413.8 1005.4,410.3 1006.1,411.5 1006.9,417.0 1007.6,413.3 1008.4,414.1 1009.1,415.4 1009.9,412.0 1010.6,413.9 1011.4,415.7 1012.1,412.3 1012.9,411.4 1013.6,417.2 1014.4,412.1 1015.1,414.7 1015.9,413.2 1016.6,410.3 1017.4,409.0 1018.1,413.1 1018.9,412.2 1019.6,411.7 1020.4,412.4 1021.1,410.5 1021.9,412.0 1022.6,408.9 1023.4,417.8 1024.1,411.9 1024.8,411.0 1025.6,408.9 1026.3,410.2 1027.1,413.2 1027.8,410.4 1028.6,408.5 1029.3,412.4 1030.1,412.7 1030.8,412.9 1031.6,415.0 1032.3,412.9 1033.1,415.9 1033.8,412.3 1034.6,408.9 1035.3,413.3 1036.1,409.0 1036.8,410.7 1037.6,410.9 1038.3,412.9 1039.1,416.2 1039.8,406.1 1040.6,413.1 1041.3,414.3 1042.1,412.5 1042.8,410.4 1043.6,412.4 1044.3,413.3 1045.1,414.0 1045.8,412.9 1046.6,410.9 1047.3,413.1 1048.1,419.4 1048.8,414.5 1049.6,416.1 1050.3,416.4 1051.1,412.4 1051.8,415.9" fill="none" stroke="#F37A24" stroke-width="2.1" stroke-linejoin="round" stroke-linecap="round"/>
<polyline points="87.5,209.0 88.2,300.0 89.6,395.7 90.5,399.3 91.4,401.7 92.3,397.0 93.2,396.3 94.1,397.8 95.0,398.6 95.9,399.1 96.8,402.9 97.7,400.2 98.6,399.1 99.5,399.4 100.4,403.7 101.3,396.2 102.2,397.2 103.1,400.8 104.0,400.2 104.9,396.8 105.8,397.4 106.7,397.5 107.6,400.0 108.5,400.3 109.4,401.1 110.3,399.1 111.2,404.4 112.1,395.0 113.0,402.1 113.9,402.8 114.8,395.5 115.7,399.4 116.6,403.8 117.5,397.0 118.4,403.1 119.3,394.2 120.2,398.8 121.1,400.1 122.0,400.9 122.9,401.8 123.8,405.0 124.7,399.4 125.6,403.7 126.5,396.2 127.4,401.9 128.3,395.3 129.2,401.9 130.1,400.3 131.0,398.2 131.9,397.2 132.8,397.7 133.7,395.3 134.6,396.5 135.5,402.9 136.4,400.3 137.3,403.0 138.2,395.9 139.1,399.5 140.0,403.4 140.9,393.9 141.8,401.1 142.7,402.1 143.6,404.3 144.5,401.7 145.4,400.5 146.3,404.9 147.2,402.9 148.1,404.5 149.0,399.5 149.9,399.1 150.8,399.3 151.7,394.3 152.6,397.3 153.5,401.5 154.4,404.7 155.3,400.5 156.2,398.6 157.1,394.4 158.0,403.7 158.9,401.7 159.8,398.2 160.7,404.7 161.6,394.6 162.5,400.1 163.4,396.9 164.3,401.1 165.2,401.3 166.1,404.9 167.0,400.4 167.9,397.3 168.8,396.9 169.7,397.6 170.6,399.6 171.5,400.6 172.4,403.1 173.3,402.6 174.2,398.5 175.1,400.5 176.0,399.3 176.9,400.9 177.8,398.8 178.7,399.3 179.6,400.6 180.5,398.9 181.4,398.4 182.3,395.8 183.2,404.4 184.1,398.0 185.0,399.3 185.9,401.5 186.8,404.6 187.7,397.8 188.6,398.7 189.5,402.6 190.4,404.4 191.3,405.2 192.2,397.1 193.1,396.6 194.0,404.4 194.9,399.8 195.8,396.4 196.7,405.6 197.6,397.4 198.5,402.2 199.4,399.6 200.3,400.4 201.2,400.5 202.1,401.5 203.0,399.3 203.9,397.4 204.8,401.5 205.7,398.1 206.6,403.9 207.5,400.0 208.4,394.7 209.3,396.1 210.2,395.0 211.1,401.8 212.0,406.7 212.9,403.6 213.8,392.2 214.7,395.6 215.6,403.0 216.5,400.7 217.4,396.4 218.3,405.6 219.2,398.4 220.1,402.2 221.0,400.9 221.9,400.0 222.8,402.4 223.7,402.3 224.6,397.5 225.5,396.8 226.4,397.7 227.3,403.0 228.2,404.8 229.1,400.8 230.0,404.6 230.9,397.9 231.8,396.7 232.7,399.3 233.6,399.4 234.5,399.3 235.4,396.6 236.3,402.8 237.2,398.8 238.1,405.1 239.0,398.5 239.9,401.6 240.8,400.6 241.7,402.3 242.6,401.8 243.5,399.5 244.4,396.8 245.3,398.2 246.2,395.4 247.1,397.3 248.0,391.5 248.9,392.8 249.8,398.0 250.7,397.3 251.6,398.0 252.5,399.6 253.4,395.1 254.3,399.3 255.2,401.2 256.1,396.6 257.0,400.0 257.9,402.0 258.8,397.2 259.7,398.8 260.6,399.7 261.5,406.1 262.4,403.3 263.3,399.2 264.2,395.8 265.1,399.4 266.0,402.3 266.9,402.5 267.8,394.7 268.7,396.1 269.6,400.1 270.5,400.0 271.4,398.2 272.3,396.8 273.2,399.6 274.1,401.2 275.0,399.4 275.9,400.9 276.8,399.8 277.7,395.1 278.6,398.3 279.5,394.2 280.4,399.5 281.3,402.1 282.2,404.0 283.1,405.4 284.0,406.1 284.9,399.7 285.8,396.6 286.7,398.9 287.6,403.1 288.5,404.7 289.4,407.8 290.3,397.5 291.2,399.2 292.1,401.5 293.0,401.9 293.9,404.7 294.8,400.9 295.7,405.2 296.6,405.3 297.5,399.1 298.4,400.8 299.3,402.8 300.2,401.1 301.1,402.1 302.0,401.2 302.9,398.9 303.8,401.6 304.7,400.7 305.6,397.4 306.5,398.6 307.4,394.6 308.3,400.6 309.2,394.5 310.1,396.4 311.0,397.0 311.9,398.7 312.8,398.4 313.7,399.8 314.6,400.2 315.5,398.1 316.4,396.1 317.3,401.1 318.2,396.1 319.1,401.5 320.0,398.5 320.9,401.2 321.8,401.1 322.7,398.5 323.6,402.0 324.5,403.1 325.4,399.9 326.3,397.1 327.2,395.3 328.1,401.0 329.0,395.7 329.9,397.9 330.8,400.4 331.7,397.8 332.6,399.0 333.5,398.3 334.4,400.0 335.3,396.5 336.2,396.7 337.1,398.6 338.0,397.6 338.9,409.2 339.8,398.5 340.7,396.9 341.6,403.5 342.5,403.8 343.4,400.3 344.3,394.0 345.2,395.5 346.1,400.1 347.0,397.2 347.9,396.6 348.8,399.4 349.7,396.2 350.6,398.8 351.5,401.6 352.4,398.1 353.3,397.4 354.2,393.7 355.1,400.7 356.0,401.5 356.9,400.8 357.8,391.1 358.7,401.1 359.6,398.7 360.5,402.4 361.4,399.4 362.3,402.5 363.2,396.9 364.1,393.1 365.0,397.7 365.9,398.0 366.8,400.7 367.7,393.8 368.6,399.6 369.5,401.6 370.4,402.6 371.3,395.6 372.2,397.8 373.1,403.4 374.0,396.9 374.9,404.0 375.8,398.1 376.7,401.1 377.6,392.6 378.5,403.9 379.4,400.1 380.3,400.6 381.2,394.0 382.1,397.1 383.0,396.6 383.9,398.5 384.8,399.6 385.7,406.2 386.6,394.7 387.5,401.6 388.4,401.8 389.3,400.5 390.2,401.0 391.1,403.4 392.0,398.0 392.9,396.5 393.8,400.5 394.7,394.8 395.6,403.8 396.5,399.8 397.4,396.8 398.3,395.7 399.2,399.7 400.1,392.7 401.0,396.0 401.9,402.6 402.8,400.5 403.7,400.4 404.6,399.4 405.5,406.4 406.4,397.9 407.3,396.2 408.2,404.3 409.1,392.5 410.0,403.7 410.9,401.9 411.8,398.0 412.7,401.8 413.6,402.0 414.5,399.2 415.4,399.8 416.3,398.3 417.2,402.3 418.1,398.5 419.0,402.5 419.9,400.8 420.8,402.9 421.7,399.3 422.6,400.5 423.5,399.2 424.4,400.4 425.3,397.4 426.2,405.4 427.1,405.5 428.0,400.9 428.9,399.8 429.8,394.1 430.7,402.8 431.6,406.5 432.5,399.6 433.4,398.2 434.3,397.9 435.2,400.1 436.1,402.3 437.0,405.3 437.9,398.3 438.8,403.7 439.7,404.8 440.6,401.0 441.5,399.1 442.4,406.0 443.3,397.3 444.2,399.1 445.1,399.6 446.0,404.9 446.9,398.8 447.8,400.2 448.7,399.2 449.6,396.4 450.5,405.3 451.4,396.9 452.3,399.3 453.2,400.6 454.1,403.2 455.0,398.5 455.9,402.4 456.8,399.3 457.7,398.4 458.6,402.3 459.5,405.2 460.4,397.0 461.3,406.5 462.2,401.3 463.1,403.9 464.0,396.4 464.9,402.0 465.8,396.6 466.7,403.6 467.6,401.2 468.5,407.6 469.4,403.8 470.3,399.4 471.2,404.7 472.1,395.9 473.0,400.2 473.9,400.1 474.8,404.3 475.7,406.0 476.6,404.4 477.5,398.1 478.4,395.7 479.3,397.3 480.2,400.0 481.1,399.5 482.0,401.2 482.9,400.4 483.8,399.0 484.7,400.8 485.6,401.9 486.5,399.9 487.4,397.9 488.3,395.9 489.2,402.2 490.1,396.2 491.0,400.1 491.9,399.0 492.8,400.1 493.7,400.1 494.6,402.2 495.5,397.6 496.4,394.2 497.3,400.9 498.2,397.1 499.1,397.7 500.0,401.4 500.9,397.9 501.8,402.5 502.7,396.9 503.6,401.5 504.5,397.8 505.4,404.2 506.3,397.5 507.2,401.1 508.1,402.3 509.0,402.1 509.9,398.5 510.8,401.3 511.7,395.7 512.6,396.2 513.5,406.4 514.4,399.9 515.3,403.4 516.2,389.9 517.1,406.4 518.0,400.4 518.9,400.1 519.8,394.4 520.7,398.6 521.6,397.1 522.5,396.6 523.4,396.8 524.3,396.8 525.2,400.5 526.1,397.2 527.0,405.5 527.9,400.7 528.8,400.2 529.7,404.1 530.6,401.1 531.5,403.9 532.4,398.8 533.3,401.1 534.2,394.5 535.1,392.0 536.0,399.3 536.9,400.9 537.8,403.0 538.7,400.1 539.6,401.2 540.5,400.4 541.4,399.1 542.3,397.6 543.2,402.4 544.1,398.8 545.0,403.0 545.9,403.3 546.8,399.1 547.7,402.2 548.6,402.9 549.5,393.4 550.4,400.2 551.3,402.5 552.2,400.7 553.1,404.7 554.0,396.3 554.9,394.7 555.8,401.7 556.7,401.5 557.6,400.0 558.5,400.2 559.4,398.4 560.3,400.6 561.2,396.9 562.1,395.8 563.0,397.3 563.9,399.7 564.8,401.9 565.7,398.6 566.6,400.4 567.5,398.4 568.4,398.2 569.3,399.6 570.2,404.7 571.1,397.8 572.0,396.8 572.9,393.8 573.8,398.7 574.7,396.3 575.6,395.6 576.5,396.0 577.4,402.3 578.3,404.0 579.2,401.1 580.1,398.9 581.0,393.4 581.9,395.9 582.8,400.0 583.7,392.4 584.6,402.4 585.5,401.6 586.4,401.9 587.3,397.7 588.2,405.3 589.1,399.7 590.0,406.7 590.9,399.2 591.8,405.2 592.7,394.1 593.6,401.2 594.5,400.2 595.4,402.4 596.3,398.5 597.2,401.6 598.1,403.7 599.0,403.8 599.9,395.3 600.8,402.2 601.7,402.3 602.6,398.2 603.5,395.7 604.4,407.0 605.3,401.2 606.2,404.2 607.1,400.0 608.0,398.4 608.9,399.1 609.8,404.1 610.7,394.8 611.6,396.5 612.5,401.8 613.4,399.4 614.3,399.4 615.2,400.4 616.1,395.7 617.0,393.8 617.9,400.5 618.8,392.0 619.7,402.0 620.6,399.8 621.5,400.0 622.4,397.2 623.3,400.1 624.2,401.3 625.1,397.2 626.0,404.8 626.9,394.2 627.8,399.6 628.7,400.6 629.6,399.7 630.5,399.9 631.4,396.5 632.3,401.8 633.2,403.2 634.1,398.1 635.0,398.7 635.9,402.7 636.8,398.3 637.7,393.9 638.6,395.2 639.5,403.4 640.4,396.3 641.3,395.4 642.2,399.0 643.1,398.6 644.0,396.8 644.9,397.7 645.8,401.5 646.7,395.4 647.6,396.3 648.5,400.5 649.4,395.2 650.3,400.3 651.2,399.5 652.1,403.1 653.0,395.2 653.9,401.5 654.8,390.9 655.7,396.9 656.6,402.0 657.5,401.6 658.4,397.4 659.3,400.2 660.2,399.2 661.1,400.8 662.0,400.5 662.9,400.9 663.8,399.4 664.7,398.9 665.6,396.1 666.5,404.0 667.4,400.7 668.3,405.9 669.2,396.5 670.1,398.9 671.0,395.3 671.9,394.0 672.8,406.1 673.7,404.0 674.6,398.3 675.5,400.9 676.4,400.8 677.3,405.9 678.2,394.5 679.1,397.5 680.0,403.2 680.9,398.0 681.8,397.4 682.7,402.7 683.6,401.3 684.5,397.6 685.4,396.9 686.3,401.6 687.2,401.4 688.1,401.6 689.0,400.6 689.9,399.5 690.8,399.8 691.7,391.9 692.6,401.5 693.5,401.5 694.4,405.9 695.3,395.7 696.2,397.0 697.1,397.0 698.0,398.4 698.9,397.1 699.8,400.3 700.7,399.1 701.6,400.5 702.5,404.0 703.4,400.9 704.3,398.8 705.2,404.4 706.1,400.8 707.0,399.4 707.9,403.2 708.8,398.9 709.7,395.5 710.6,396.9 711.5,396.0 712.4,403.1 713.3,401.8 714.2,397.3 715.1,403.2 716.0,396.8 716.9,403.2 717.8,396.7 718.7,400.3 719.6,396.2 720.5,397.0 721.4,401.7 722.3,393.1 723.2,405.7 724.1,401.8 725.0,401.7 725.9,398.8 726.8,397.1 727.7,399.3 728.6,403.8 729.5,397.8 730.4,397.8 731.3,397.6 732.2,398.4 733.1,398.7 734.0,404.2 734.9,399.8 735.8,397.0 736.7,399.9 737.6,402.1 738.5,392.5 739.4,400.9 740.3,396.9 741.2,399.5 742.1,396.5 743.0,401.7 743.9,402.1 744.8,402.4 745.7,401.9 746.6,406.7 747.5,398.9 748.4,394.7 749.3,400.9 750.2,399.2 751.1,393.5 752.0,402.5 752.9,401.6 753.8,396.7 754.7,399.5 755.6,395.2 756.5,400.6 757.4,394.9 758.3,402.4 759.2,401.7 760.1,404.2 761.0,395.3 761.9,398.8 762.8,400.0 763.7,400.0 764.6,397.1 765.5,399.5 766.4,401.6 767.3,394.1 768.2,390.8 769.1,397.4 770.0,402.3 770.9,400.8 771.8,393.7 772.7,401.5 773.6,398.4 774.5,400.3 775.4,395.4 776.3,404.8 777.2,401.6 778.1,398.0 779.0,394.3 779.9,400.4 780.8,402.1 781.7,397.9 782.6,403.7 783.5,399.5 784.4,399.0 785.3,399.4 786.2,401.5 787.1,394.0 788.0,398.5 788.9,392.9 789.8,397.1 790.7,394.5 791.6,398.7 792.5,399.2 793.4,396.6 794.3,396.7 795.2,396.4 796.1,396.6 797.0,398.2 797.9,400.7 798.8,395.2 799.7,396.1 800.6,398.9 801.5,393.3 802.4,394.4 803.3,396.2 804.2,401.8 805.1,401.1 806.0,397.7 806.9,394.9 807.8,397.8 808.7,398.6 809.6,390.8 810.5,392.3 811.4,405.6 812.3,402.0 813.2,398.2 814.1,398.4 815.0,398.2 815.9,402.5 816.8,404.0 817.7,397.5 818.6,398.9 819.5,401.8 820.4,401.8 821.3,395.6 822.2,402.5 823.1,399.1 824.0,399.9 824.9,402.2 825.8,394.2 826.7,399.4 827.6,397.6 828.5,404.5 829.4,404.9 830.3,400.8 831.2,400.2 832.1,401.4 833.0,401.8 833.9,394.2 834.8,398.5 835.7,400.3 836.6,396.6 837.5,395.9 838.4,402.2 839.3,398.8 840.2,405.6 841.1,401.7 842.0,403.9 842.9,399.1 843.8,395.7 844.7,398.9 845.6,396.9 846.5,402.6 847.4,397.9 848.3,397.9 849.2,397.4 850.1,399.1 851.0,393.4 851.9,395.1 852.8,395.7 853.7,394.9 854.6,398.6 855.5,404.6 856.4,397.9 857.3,395.5 858.2,395.8 859.1,397.2 860.0,398.6 860.9,392.1 861.8,397.5 862.7,400.9 863.6,399.7 864.5,406.3 865.4,399.8 866.3,399.0 867.2,395.7 868.1,393.4 869.0,390.1 869.9,399.1 870.8,397.1 871.7,399.1 872.6,395.1 873.5,403.3 874.4,398.3 875.3,396.6 876.2,399.8 877.1,403.6 878.0,393.0 878.9,398.1 879.8,399.7 880.7,388.3 881.6,402.6 882.5,405.4 883.4,394.4 884.3,391.0 885.2,396.5 886.1,400.4 887.0,401.0 887.9,397.2 888.8,398.6 889.7,398.1 890.6,401.2 891.5,399.4 892.4,396.2 893.3,398.0 894.2,398.3 895.1,396.7 896.0,399.8 896.9,398.9 897.8,401.6 898.7,396.6 899.6,396.8 900.5,400.3 901.4,399.2 902.3,395.8 903.2,392.9 904.1,400.7 905.0,395.6 905.9,404.3 906.8,397.6 907.7,397.1 908.6,399.0 909.5,400.9 910.4,397.9 911.3,398.2 912.2,397.2 913.1,399.4 914.0,394.9 914.9,405.4 915.8,394.9 916.7,400.2 917.6,391.8 918.5,394.9 919.4,396.5 920.3,395.3 921.2,403.7 922.1,399.1 923.0,403.1 923.9,399.7 924.8,403.4 925.7,399.1 926.6,404.3 927.5,405.4 928.4,400.7 929.3,402.1 930.2,404.3 931.1,396.4 932.0,402.6 932.9,403.6 933.8,405.5 934.7,395.5 935.6,407.0 936.5,400.2 937.4,404.4 938.3,393.0 939.2,396.8 940.1,395.2 941.0,404.0 941.9,401.5 942.8,400.8 943.7,410.2 944.6,397.9 945.5,402.2 946.4,398.2 947.3,396.6 948.2,397.5 949.1,401.2 950.0,403.3 950.9,397.7 951.8,399.9 952.7,399.3 953.6,398.5 954.5,401.1 955.4,403.8 956.3,394.5 957.2,401.2 958.1,401.6 959.0,398.8 959.9,397.8 960.8,400.8 961.7,401.9 962.6,400.6 963.5,402.3 964.4,396.5 965.3,400.4 966.2,402.7 967.1,397.5 968.0,397.5 968.9,399.2 969.8,396.2 970.7,396.9 971.6,406.2 972.5,401.5 973.4,397.8 974.3,399.5 975.2,394.9 976.1,400.9 977.0,403.0 977.9,396.1 978.8,400.2 979.7,396.9 980.6,398.2 981.5,400.9 982.4,399.6 983.3,402.1 984.2,400.9 985.1,407.3 986.0,403.2 986.9,401.4 987.8,400.1 988.7,401.7 989.6,397.7 990.5,393.6 991.4,398.4 992.3,401.9 993.2,399.0 994.1,404.8 995.0,396.0 995.9,403.1 996.8,394.9 997.7,398.9 998.6,401.1 999.5,399.0 1000.4,398.1 1001.3,398.1 1002.2,400.8 1003.1,398.9 1004.0,399.8 1004.9,405.2 1005.8,399.8 1006.7,397.4 1007.6,401.3 1008.5,396.7 1009.4,403.4 1010.3,400.0 1011.2,399.0 1012.1,399.6 1013.0,393.9 1013.9,398.7 1014.8,398.1 1015.7,397.3 1016.6,395.9 1017.5,403.5 1018.4,400.0 1019.3,401.7 1020.2,399.6 1021.1,401.4 1022.0,407.3 1022.9,401.0 1023.8,404.2 1024.7,400.4 1025.6,404.5 1026.5,402.5 1027.4,401.8 1028.3,398.7 1029.2,400.2 1030.1,400.5 1031.0,403.8 1031.9,397.4 1032.8,396.5 1033.7,401.2 1034.6,402.2 1035.5,398.2 1036.4,397.8 1037.3,399.1 1038.2,401.2 1039.1,403.2 1040.0,396.6 1040.9,404.8 1041.8,395.6 1042.7,406.0 1043.6,403.9 1044.5,397.8 1045.4,404.0 1046.3,403.0 1047.2,402.5 1048.1,403.0 1049.0,399.6 1049.9,407.7 1050.8,396.3 1051.7,402.6" fill="none" stroke="#A4A4A4" stroke-width="2.1" stroke-linejoin="round" stroke-linecap="round"/>
<polyline points="87.5,209.0 88.2,300.0 89.6,382.0 90.7,384.6 91.8,394.1 92.9,384.9 94.0,388.4 95.1,385.3 96.2,381.2 97.3,384.0 98.4,387.5 99.5,385.1 100.6,392.9 101.7,386.7 102.8,388.8 103.9,378.5 105.0,372.7 106.1,395.4 107.2,381.1 108.3,382.0 109.4,393.1 110.5,384.6 111.6,382.4 112.7,383.6 113.8,398.8 114.9,386.7 116.0,388.5 117.1,393.8 118.2,371.5 119.3,395.3 120.4,381.1 121.5,381.9 122.6,390.5 123.7,387.6 124.8,390.5 125.9,382.2 127.0,392.5 128.1,385.3 129.2,381.2 130.3,381.4 131.4,394.6 132.5,395.9 133.6,386.4 134.7,381.6 135.8,382.8 136.9,393.3 138.0,388.4 139.1,387.0 140.2,385.1 141.3,389.5 142.4,396.9 143.5,385.3 144.6,386.8 145.7,400.1 146.8,386.0 147.9,388.9 149.0,395.5 150.1,393.0 151.2,384.0 152.3,392.2 153.4,387.5 154.5,383.7 155.6,384.1 156.7,383.2 157.8,385.5 158.9,384.4 160.0,394.0 161.1,383.2 162.2,393.8 163.3,389.6 164.4,395.5 165.5,383.1 166.6,392.1 167.7,385.1 168.8,388.6 169.9,391.7 171.0,386.0 172.1,386.5 173.2,384.9 174.3,388.0 175.4,378.6 176.5,392.1 177.6,386.8 178.7,389.2 179.8,391.3 180.9,381.1 182.0,392.3 183.1,370.9 184.2,392.3 185.3,386.3 186.4,389.4 187.5,390.1 188.6,381.7 189.7,380.6 190.8,390.8 191.9,386.6 193.0,392.2 194.1,379.9 195.2,381.3 196.3,381.0 197.4,387.1 198.5,381.6 199.6,389.6 200.7,384.9 201.8,383.9 202.9,376.5 204.0,385.8 205.1,392.4 206.2,381.7 207.3,382.4 208.4,388.0 209.5,396.7 210.6,381.6 211.7,374.2 212.8,381.8 213.9,391.3 215.0,388.4 216.1,391.5 217.2,387.0 218.3,386.2 219.4,387.9 220.5,382.0 221.6,375.8 222.7,385.1 223.8,386.2 224.9,386.7 226.0,377.6 227.1,387.4 228.2,383.8 229.3,382.7 230.4,390.2 231.5,390.5 232.6,395.4 233.7,386.6 234.8,393.8 235.9,389.8 237.0,381.4 238.1,387.5 239.2,383.8 240.3,385.6 241.4,386.7 242.5,388.3 243.6,392.0 244.7,387.8 245.8,386.3 246.9,386.6 248.0,385.8 249.1,389.7 250.2,376.5 251.3,389.6 252.4,389.6 253.5,380.1 254.6,387.6 255.7,391.6 256.8,391.1 257.9,389.0 259.0,389.4 260.1,383.6 261.2,390.3 262.3,374.8 263.4,382.3 264.5,382.4 265.6,392.0 266.7,384.6 267.8,384.3 268.9,387.9 270.0,386.0 271.1,391.0 272.2,397.8 273.3,381.3 274.4,393.6 275.5,394.9 276.6,388.1 277.7,381.9 278.8,383.5 279.9,384.4 281.0,393.2 282.1,389.7 283.2,391.4 284.3,382.8 285.4,380.5 286.5,378.3 287.6,387.7 288.7,384.5 289.8,384.7 290.9,391.0 292.0,384.3 293.1,395.0 294.2,379.0 295.3,390.0 296.4,390.6 297.5,393.8 298.6,377.5 299.7,385.5 300.8,390.2 301.9,388.4 303.0,394.4 304.1,386.1 305.2,390.3 306.3,391.1 307.4,384.0 308.5,390.1 309.6,380.9 310.7,395.1 311.8,381.9 312.9,393.1 314.0,392.4 315.1,385.5 316.2,388.9 317.3,387.5 318.4,398.9 319.5,390.4 320.6,389.3 321.7,386.1 322.8,386.8 323.9,379.3 325.0,394.0 326.1,393.8 327.2,382.6 328.3,391.4 329.4,392.2 330.5,389.1 331.6,386.4 332.7,394.7 333.8,382.7 334.9,386.4 336.0,386.7 337.1,392.0 338.2,387.9 339.3,391.5 340.4,386.9 341.5,400.2 342.6,393.1 343.7,381.4 344.8,388.0 345.9,390.8 347.0,390.5 348.1,392.0 349.2,385.0 350.3,394.4 351.4,385.7 352.5,389.8 353.6,386.2 354.7,390.5 355.8,378.5 356.9,391.3 358.0,391.5 359.1,386.2 360.2,396.2 361.3,384.0 362.4,390.1 363.5,387.8 364.6,388.2 365.7,390.3 366.8,386.4 367.9,382.4 369.0,390.3 370.1,389.9 371.2,390.3 372.3,390.1 373.4,384.7 374.5,395.2 375.6,383.2 376.7,384.7 377.8,390.1 378.9,390.3 380.0,391.9 381.1,387.7 382.2,387.3 383.3,378.6 384.4,395.2 385.5,385.8 386.6,394.9 387.7,384.2 388.8,390.5 389.9,386.8 391.0,377.4 392.1,386.0 393.2,386.9 394.3,386.8 395.4,388.1 396.5,395.1 397.6,378.5 398.7,391.7 399.8,379.8 400.9,379.1 402.0,382.3 403.1,382.2 404.2,386.7 405.3,392.1 406.4,383.8 407.5,386.6 408.6,387.3 409.7,380.1 410.8,387.0 411.9,383.3 413.0,393.1 414.1,382.0 415.2,390.3 416.3,388.3 417.4,379.8 418.5,385.7 419.6,392.3 420.7,390.5 421.8,386.2 422.9,395.2 424.0,383.4 425.1,387.7 426.2,377.1 427.3,398.5 428.4,388.1 429.5,385.9 430.6,396.3 431.7,387.3 432.8,393.1 433.9,397.6 435.0,388.7 436.1,389.6 437.2,390.1 438.3,394.9 439.4,387.1 440.5,385.3 441.6,393.3 442.7,388.5 443.8,398.6 444.9,387.9 446.0,383.0 447.1,380.0 448.2,392.5 449.3,388.9 450.4,385.9 451.5,382.6 452.6,388.2 453.7,389.6 454.8,387.4 455.9,386.5 457.0,384.6 458.1,387.2 459.2,388.4 460.3,386.8 461.4,377.6 462.5,392.1 463.6,386.0 464.7,388.9 465.8,393.3 466.9,387.3 468.0,391.5 469.1,382.0 470.2,390.2 471.3,394.0 472.4,390.3 473.5,385.8 474.6,390.9 475.7,392.3 476.8,393.5 477.9,390.2 479.0,387.3 480.1,384.6 481.2,388.4 482.3,382.1 483.4,396.9 484.5,381.6 485.6,393.2 486.7,378.8 487.8,389.0 488.9,390.5 490.0,390.8 491.1,380.0 492.2,387.8 493.3,398.3 494.4,381.4 495.5,387.3 496.6,391.7 497.7,383.0 498.8,392.0 499.9,385.2 501.0,386.4 502.1,393.6 503.2,395.1 504.3,376.8 505.4,382.8 506.5,385.1 507.6,387.4 508.7,383.9 509.8,379.7 510.9,380.1 512.0,385.3 513.1,388.9 514.2,390.5 515.3,391.3 516.4,382.5 517.5,387.9 518.6,388.7 519.7,385.0 520.8,387.3 521.9,387.9 523.0,389.0 524.1,384.1 525.2,390.9 526.3,386.9 527.4,390.4 528.5,392.4 529.6,390.1 530.7,378.8 531.8,383.0 532.9,386.3 534.0,387.3 535.1,374.9 536.2,392.5 537.3,385.2 538.4,395.0 539.5,389.5 540.6,392.0 541.7,390.8 542.8,391.1 543.9,384.7 545.0,391.0 546.1,388.0 547.2,388.2 548.3,385.1 549.4,394.9 550.5,384.6 551.6,393.5 552.7,386.2 553.8,387.7 554.9,384.7 556.0,388.4 557.1,394.6 558.2,393.8 559.3,383.3 560.4,392.7 561.5,383.8 562.6,396.2 563.7,379.1 564.8,389.9 565.9,385.1 567.0,390.8 568.1,398.1 569.2,393.0 570.3,385.1 571.4,384.4 572.5,390.7 573.6,390.9 574.7,385.7 575.8,398.3 576.9,382.7 578.0,394.4 579.1,393.7 580.2,388.3 581.3,389.1 582.4,388.0 583.5,399.0 584.6,392.2 585.7,388.9 586.8,393.9 587.9,376.8 589.0,390.9 590.1,384.1 591.2,386.7 592.3,389.2 593.4,379.7 594.5,395.3 595.6,384.2 596.7,393.8 597.8,388.7 598.9,391.7 600.0,392.6 601.1,388.6 602.2,384.3 603.3,398.3 604.4,396.6 605.5,387.7 606.6,392.8 607.7,381.5 608.8,387.4 609.9,382.2 611.0,386.2 612.1,393.5 613.2,384.3 614.3,385.1 615.4,389.8 616.5,380.1 617.6,391.6 618.7,396.9 619.8,390.6 620.9,391.3 622.0,383.8 623.1,387.0 624.2,385.7 625.3,390.0 626.4,395.5 627.5,385.7 628.6,390.0 629.7,382.6 630.8,385.8 631.9,387.0 633.0,383.0 634.1,384.6 635.2,390.9 636.3,392.9 637.4,395.7 638.5,385.0 639.6,395.1 640.7,382.4 641.8,388.1 642.9,384.0 644.0,388.4 645.1,388.5 646.2,386.0 647.3,403.0 648.4,387.2 649.5,384.7 650.6,381.5 651.7,387.5 652.8,389.8 653.9,394.7 655.0,379.3 656.1,381.7 657.2,377.3 658.3,388.4 659.4,386.6 660.5,394.6 661.6,390.7 662.7,391.4 663.8,385.4 664.9,387.7 666.0,391.6 667.1,388.2 668.2,382.5 669.3,391.9 670.4,389.9 671.5,390.4 672.6,381.6 673.7,386.0 674.8,378.8 675.9,390.9 677.0,391.4 678.1,392.8 679.2,397.1 680.3,386.4 681.4,384.8 682.5,384.7 683.6,382.9 684.7,381.9 685.8,394.0 686.9,387.1 688.0,388.3 689.1,390.5 690.2,391.4 691.3,382.8 692.4,390.9 693.5,383.9 694.6,389.4 695.7,392.6 696.8,396.7 697.9,382.4 699.0,388.5 700.1,384.9 701.2,384.1 702.3,391.9 703.4,383.2 704.5,391.6 705.6,390.2 706.7,399.2 707.8,384.3 708.9,389.2 710.0,389.1 711.1,399.9 712.2,392.3 713.3,400.4 714.4,386.4 715.5,392.8 716.6,392.0 717.7,395.7 718.8,383.0 719.9,394.9 721.0,391.8 722.1,387.8 723.2,389.9 724.3,393.0 725.4,390.8 726.5,391.1 727.6,394.7 728.7,386.2 729.8,388.6 730.9,399.3 732.0,392.6 733.1,386.5 734.2,388.7 735.3,393.6 736.4,386.6 737.5,390.0 738.6,385.9 739.7,394.0 740.8,395.6 741.9,382.0 743.0,396.9 744.1,388.7 745.2,395.1 746.3,392.9 747.4,384.6 748.5,389.3 749.6,389.7 750.7,379.0 751.8,394.8 752.9,392.9 754.0,383.2 755.1,391.0 756.2,389.4 757.3,384.2 758.4,393.5 759.5,380.2 760.6,379.8 761.7,378.5 762.8,388.7 763.9,393.7 765.0,391.1 766.1,392.5 767.2,391.5 768.3,387.2 769.4,386.7 770.5,395.2 771.6,386.8 772.7,385.9 773.8,396.5 774.9,392.9 776.0,394.8 777.1,380.7 778.2,388.9 779.3,387.8 780.4,396.9 781.5,391.8 782.6,392.8 783.7,387.7 784.8,380.0 785.9,390.6 787.0,394.1 788.1,391.2 789.2,395.9 790.3,388.5 791.4,391.1 792.5,384.7 793.6,388.3 794.7,387.2 795.8,389.9 796.9,391.6 798.0,387.4 799.1,384.1 800.2,393.8 801.3,388.8 802.4,390.7 803.5,391.5 804.6,389.5 805.7,389.1 806.8,393.9 807.9,396.8 809.0,390.0 810.1,381.8 811.2,389.5 812.3,396.8 813.4,388.8 814.5,386.0 815.6,392.2 816.7,383.3 817.8,394.0 818.9,382.8 820.0,388.9 821.1,381.0 822.2,389.7 823.3,387.2 824.4,389.0 825.5,395.8 826.6,388.7 827.7,396.7 828.8,391.0 829.9,385.3 831.0,384.2 832.1,395.8 833.2,387.8 834.3,383.0 835.4,391.6 836.5,391.4 837.6,395.9 838.7,393.1 839.8,386.8 840.9,380.9 842.0,385.9 843.1,395.4 844.2,391.3 845.3,386.6 846.4,390.9 847.5,393.3 848.6,395.3 849.7,390.0 850.8,386.6 851.9,383.4 853.0,389.4 854.1,394.0 855.2,395.4 856.3,395.7 857.4,392.3 858.5,394.9 859.6,385.8 860.7,383.1 861.8,396.5 862.9,393.7 864.0,390.7 865.1,374.4 866.2,386.3 867.3,388.2 868.4,389.2 869.5,383.5 870.6,384.6 871.7,388.1 872.8,389.1 873.9,389.7 875.0,385.3 876.1,379.9 877.2,394.0 878.3,388.6 879.4,387.1 880.5,393.4 881.6,385.1 882.7,389.4 883.8,392.7 884.9,387.3 886.0,385.0 887.1,386.4 888.2,395.4 889.3,390.9 890.4,378.6 891.5,389.8 892.6,386.1 893.7,396.7 894.8,388.1 895.9,388.3 897.0,388.3 898.1,392.1 899.2,386.8 900.3,387.8 901.4,398.4 902.5,391.2 903.6,392.4 904.7,387.0 905.8,384.1 906.9,391.3 908.0,387.1 909.1,391.5 910.2,386.9 911.3,396.9 912.4,391.9 913.5,388.1 914.6,389.1 915.7,385.1 916.8,390.0 917.9,389.2 919.0,391.1 920.1,393.3 921.2,390.7 922.3,387.8 923.4,381.4 924.5,397.4 925.6,394.9 926.7,384.7 927.8,400.9 928.9,388.1 930.0,387.5 931.1,394.3 932.2,386.6 933.3,393.0 934.4,387.1 935.5,389.6 936.6,383.3 937.7,387.2 938.8,384.5 939.9,384.6 941.0,391.6 942.1,387.5 943.2,385.0 944.3,398.1 945.4,384.2 946.5,389.7 947.6,387.6 948.7,392.9 949.8,392.9 950.9,385.1 952.0,389.0 953.1,389.6 954.2,393.0 955.3,390.4 956.4,392.8 957.5,389.9 958.6,389.7 959.7,395.6 960.8,387.0 961.9,391.9 963.0,389.3 964.1,394.3 965.2,392.7 966.3,383.3 967.4,383.8 968.5,393.9 969.6,374.8 970.7,386.5 971.8,386.9 972.9,388.0 974.0,383.7 975.1,384.7 976.2,386.3 977.3,383.3 978.4,386.1 979.5,384.8 980.6,384.5 981.7,387.9 982.8,392.9 983.9,385.8 985.0,387.5 986.1,391.8 987.2,388.7 988.3,389.1 989.4,401.6 990.5,398.6 991.6,386.5 992.7,391.1 993.8,377.3 994.9,392.0 996.0,385.3 997.1,397.4 998.2,392.2 999.3,394.9 1000.4,381.5 1001.5,391.7 1002.6,390.0 1003.7,383.2 1004.8,396.4 1005.9,389.7 1007.0,389.9 1008.1,383.0 1009.2,383.9 1010.3,389.8 1011.4,385.2 1012.5,391.7 1013.6,383.1 1014.7,398.8 1015.8,389.2 1016.9,391.6 1018.0,394.7 1019.1,388.7 1020.2,388.7 1021.3,386.6 1022.4,393.9 1023.5,390.8 1024.6,391.2 1025.7,390.8 1026.8,388.3 1027.9,391.6 1029.0,391.8 1030.1,392.3 1031.2,394.8 1032.3,395.2 1033.4,393.4 1034.5,389.3 1035.6,391.5 1036.7,392.0 1037.8,387.9 1038.9,390.9 1040.0,393.5 1041.1,389.4 1042.2,389.0 1043.3,388.7 1044.4,390.0 1045.5,397.1 1046.6,401.4 1047.7,390.9 1048.8,394.2 1049.9,384.0 1051.0,387.2 1052.1,393.8" fill="none" stroke="#FFC000" stroke-width="2.1" stroke-linejoin="round" stroke-linecap="round"/>
<polyline points="87.5,208.8 88.4,262.0 89.4,325.0 90.8,344.1 94.1,337.6 96.0,345.2 97.1,371.0 100.4,356.7 103.1,344.7 105.9,364.9 107.0,342.5 109.7,350.2 112.2,332.4 115.2,354.0 117.4,352.9 119.0,344.7 120.1,363.8 122.0,334.6 123.4,364.9 126.1,366.6 128.0,373.1 128.9,354.0 131.0,354.0 132.9,377.5 134.9,348.5 136.3,368.8 139.0,337.6 142.0,372.0 144.0,344.7 145.8,364.9 148.0,363.3 150.7,352.9 154.0,366.0 155.1,360.0 156.8,357.8 158.1,374.8 159.2,341.4 161.1,368.2 162.2,367.7 163.9,341.4 165.2,377.5 166.8,363.3 168.0,373.7 170.4,356.7 172.1,355.6 173.9,356.7 175.0,334.6 177.0,343.6 178.3,358.9 180.3,368.2 181.2,362.7 183.0,378.6 185.8,360.0 186.6,362.7 187.9,342.5 189.9,345.8 191.0,362.7 192.9,360.6 194.0,346.9 195.6,359.5 196.9,343.6 200.0,371.0 202.7,363.3 204.2,370.8 206.7,356.6 208.9,349.9 210.1,367.8 211.9,355.1 213.1,373.8 215.9,345.5 217.1,361.1 218.9,367.8 222.1,326.8 223.4,354.4 226.1,348.4 227.9,365.6 229.1,338.0 230.1,360.4 231.7,335.8 233.1,359.6 235.0,344.7 235.8,350.7 237.7,332.8 239.2,359.6 241.0,344.0 243.2,355.1 245.2,369.3 246.2,361.8 247.7,365.6 251.0,349.2 252.2,362.6 254.8,335.8 256.8,329.8 258.9,341.7 260.4,352.2 262.3,370.0 265.6,355.1 266.6,358.9 268.3,350.7 271.2,347.7 272.3,338.7 274.1,352.9 275.0,338.0 277.5,351.4 279.7,349.2 280.5,346.2 281.5,349.2 283.0,340.2 284.2,364.1 286.7,339.5 288.2,350.7 289.9,356.6 291.2,346.2 292.7,352.2 293.9,334.3 296.1,342.5 298.8,305.2 301.0,328.3 303.6,313.4 305.8,348.4 307.0,323.1 308.8,321.6 311.5,323.8 312.8,327.6 315.5,300.0 317.3,329.8 319.7,317.6 321.1,332.8 322.4,327.7 324.1,329.4 325.8,326.1 327.8,332.8 329.2,331.1 331.2,330.3 332.9,319.3 334.6,322.7 335.9,332.0 338.0,310.0 339.2,321.0 341.0,291.4 341.9,328.6 343.9,308.3 346.1,290.6 348.1,288.9 349.5,303.2 351.2,310.0 352.0,304.1 354.0,302.4 356.1,330.3 357.9,294.8 359.1,293.9 360.8,316.8 362.1,299.9 364.2,307.5 367.2,321.0 368.1,293.6 370.1,331.1 370.9,304.1 373.1,309.2 374.3,308.3 376.8,318.4 379.9,278.7 381.1,319.3 383.6,305.8 385.0,321.8 387.8,299.0 389.9,315.9 392.9,295.6 394.9,310.0 395.8,302.4 397.1,320.1 400.0,318.4 401.0,277.0 403.0,258.5 403.9,310.0 405.9,262.7 406.9,303.2 409.0,309.2 413.2,304.1 414.5,294.8 416.1,291.4 417.1,268.6 419.1,293.1 421.6,288.0 423.0,309.2 424.7,293.9 425.9,310.0 427.2,302.4 428.9,304.1 430.9,296.5 431.8,295.6 433.1,304.9 435.1,303.2 435.7,282.5 437.9,296.0 440.1,309.5 441.8,290.1 443.0,305.3 445.5,301.9 447.5,286.7 449.2,309.5 451.4,309.5 452.3,299.4 454.0,297.7 454.8,301.9 456.2,275.7 457.7,274.0 458.7,263.9 461.1,305.3 462.1,277.4 463.8,268.9 464.6,274.9 467.2,250.4 469.2,282.5 471.2,254.6 472.2,270.6 473.7,258.0 474.8,283.3 476.8,288.4 478.1,265.6 481.0,260.5 482.7,265.6 483.9,292.6 485.2,279.1 486.9,279.9 488.1,253.7 491.2,263.9 492.8,288.4 493.9,246.6 495.9,258.0 497.1,242.7 497.9,282.5 500.1,263.0 501.0,267.3 503.0,264.7 504.3,252.9 505.9,261.3 507.2,285.8 508.6,257.1 510.1,255.4 510.9,279.1 514.0,243.6 516.0,275.7 517.0,274.9 519.0,247.8 520.2,267.3 521.9,268.9 522.9,253.7 524.4,273.2 525.5,256.3 527.0,283.3 528.7,266.4 530.0,275.7 532.1,279.1 534.6,261.3 535.9,283.3 537.6,258.8 539.7,258.8 541.9,295.1 544.9,263.0 546.1,273.2 548.6,271.5 550.8,265.6 552.2,272.8 553.9,274.5 555.6,255.1 557.3,264.4 559.0,251.7 561.0,266.1 564.1,248.3 565.4,274.5 567.9,252.5 569.1,266.1 572.0,252.5 575.0,272.8 578.1,256.8 579.8,255.9 581.3,250.0 582.1,253.4 583.8,236.5 585.5,256.8 586.9,275.3 588.1,244.9 589.7,263.5 591.1,234.8 594.1,240.7 597.0,254.2 598.2,234.8 599.9,239.0 600.9,233.1 602.9,247.5 604.1,229.7 606.8,253.4 608.8,225.5 610.0,247.5 612.6,235.6 614.2,238.2 616.8,236.5 619.0,250.0 621.0,247.5 622.4,240.7 624.1,255.9 626.1,223.0 627.1,254.2 630.0,223.8 632.0,226.3 633.3,223.0 635.0,228.0 635.9,221.3 637.9,220.1 639.3,234.8 640.6,237.3 642.1,244.9 643.0,233.9 644.8,261.8 646.0,239.9 647.7,256.8 649.4,230.6 652.8,211.1 654.8,226.3 655.8,217.0 659.2,242.4 660.9,221.3 662.1,244.1 665.0,197.6 667.1,212.0 668.7,224.5 670.4,223.7 671.9,197.5 674.1,202.5 675.8,212.7 677.2,221.1 678.4,216.9 680.1,220.3 681.7,224.5 683.9,225.3 685.1,208.4 687.2,192.4 688.5,192.4 690.2,199.2 693.6,222.8 694.9,190.7 696.4,195.8 697.8,188.2 699.5,207.6 701.2,190.7 703.2,202.5 705.4,203.4 707.6,224.5 710.0,192.4 711.3,194.9 713.0,205.1 714.2,202.5 715.9,216.9 717.2,190.7 718.9,185.6 720.3,194.9 722.0,197.5 724.0,183.1 726.0,216.1 727.9,194.1 729.6,187.3 730.4,200.8 731.9,160.3 733.0,206.8 734.6,176.3 735.5,200.8 737.0,194.1 738.9,189.9 740.1,194.1 742.6,178.0 746.0,200.0 748.0,185.6 749.7,200.0 751.9,188.2 752.7,194.9 754.9,178.0 756.6,187.3 757.8,188.2 759.1,166.7 761.2,177.2 762.0,176.3 763.7,162.0 764.9,190.7 765.9,161.1 767.6,174.6 768.8,176.3 770.8,175.5 772.2,163.7 773.9,157.7 774.7,162.0 775.9,161.1 777.7,154.9 778.9,173.0 780.3,169.6 782.3,173.8 783.4,174.9 785.1,159.7 786.8,155.8 788.1,170.7 789.8,173.2 791.0,146.2 791.8,181.7 794.9,195.2 797.7,160.6 799.9,164.8 801.1,174.9 802.5,176.6 804.0,194.4 805.7,186.8 807.0,165.6 808.2,165.6 810.9,146.2 813.0,172.4 814.3,178.3 815.5,179.2 817.2,191.8 818.9,182.5 819.7,183.4 821.4,166.5 823.1,160.6 824.3,181.7 825.3,174.1 827.3,174.9 829.0,176.6 830.2,171.5 831.9,185.9 832.9,165.6 834.9,165.6 836.3,174.9 838.6,174.1 840.5,184.2 842.0,189.3 842.9,170.7 844.2,191.0 845.9,204.5 848.8,181.7 849.8,191.8 851.8,180.8 853.0,195.2 854.9,175.8 856.1,188.4 857.7,176.6 858.6,184.2 860.8,173.2 861.6,177.5 863.2,156.3 865.0,159.7 866.2,151.8 869.1,154.6 872.1,149.6 873.8,140.3 875.1,168.2 877.2,167.3 878.9,130.5 881.9,173.2 884.8,127.6 887.8,173.2 889.9,156.3 890.7,165.6 891.9,136.6 894.1,153.0 895.3,142.0 897.0,145.4 898.0,128.5 899.7,147.5 901.1,149.2 902.8,173.7 903.9,135.3 905.3,162.7 907.0,171.1 908.2,147.5 910.9,156.8 912.9,134.3 914.3,154.2 915.9,136.5 917.1,163.5 918.8,153.4 920.0,174.5 923.0,138.7 923.9,152.5 926.9,134.4 929.0,147.5 932.0,151.7 934.0,134.8 935.7,134.8 936.9,119.6 939.1,168.6 939.9,149.5 941.3,166.9 942.5,153.4 943.7,155.1 945.0,166.9 946.2,139.9 947.2,145.8 948.9,146.6 950.1,122.4 953.1,154.2 956.0,106.6 958.2,106.6 959.0,144.9 960.2,136.5 961.6,139.0 963.1,123.5 965.0,154.2 966.1,142.4 968.2,140.7 970.9,155.9 974.1,133.1 974.9,150.0 976.8,136.5 978.0,137.3 979.2,125.5 980.5,124.6 982.2,114.5 983.9,168.6 985.2,138.2 987.3,135.6 988.4,130.6 990.6,135.6 992.3,134.8 994.0,139.0 994.9,108.6 996.9,154.2 999.6,133.9 1000.8,132.3 1002.8,117.0 1003.8,126.3 1005.0,113.7 1007.9,144.1 1010.1,124.6 1011.3,123.8 1013.0,138.2 1014.0,122.1 1015.1,123.0 1016.7,149.5 1018.0,104.2 1019.9,132.0 1020.7,118.5 1022.3,121.7 1024.2,136.0 1025.5,134.4 1027.0,119.3 1029.0,144.5 1031.0,105.3 1033.1,134.4 1034.7,130.5 1036.9,113.3 1038.5,114.5 1039.8,132.8 1041.4,116.1 1043.0,136.0 1044.9,112.2 1046.1,128.9 1048.5,91.5 1050.1,118.5 1052.5,81.9" fill="none" stroke="#4370C6" stroke-width="2.1" stroke-linejoin="round" stroke-linecap="round"/>
</g>
<path d="M50.7 0V1M50.7 502V503M98.6 0V1M98.6 502V503M127.8 0V1M127.8 502V503M186.5 0V1M186.5 502V503M234.8 0V1M234.8 502V503M276.0 0V1M276.0 502V503M318.0 0V1M318.0 502V503M373.3 0V1M373.3 502V503M448.2 0V1M448.2 502V503M521.4 0V1M521.4 502V503M595.1 0V1M595.1 502V503M669.2 0V1M669.2 502V503M743.6 0V1M743.6 502V503M817.9 0V1M817.9 502V503M891.8 0V1M891.8 502V503M965.6 0V1M965.6 502V503M1039.1 0V1M1039.1 502V503M1113.8 0V1M1113.8 502V503M0 3.5H1M1173 3.5H1174M0 24.5H1M1173 24.5H1174M0 45.5H1M1173 45.5H1174M0 66.5H1M1173 66.5H1174M0 87.6H1M1173 87.6H1174M0 108.6H1M1173 108.6H1174M0 129.6H1M1173 129.6H1174M0 150.6H1M1173 150.6H1174M0 171.6H1M1173 171.6H1174M0 192.6H1M1173 192.6H1174M0 213.7H1M1173 213.7H1174M0 234.7H1M1173 234.7H1174M0 255.7H1M1173 255.7H1174M0 276.7H1M1173 276.7H1174M0 297.7H1M1173 297.7H1174M0 318.7H1M1173 318.7H1174M0 339.7H1M1173 339.7H1174M0 360.8H1M1173 360.8H1174M0 381.8H1M1173 381.8H1174M0 402.8H1M1173 402.8H1174M0 423.8H1M1173 423.8H1174M0 444.8H1M1173 444.8H1174M0 465.8H1M1173 465.8H1174M0 486.8H1M1173 486.8H1174" stroke="#CFCFCF" stroke-width="1" fill="none"/>
<path d="M1 1H1173V2H1ZM1 1H2V502H1ZM1171.75 1H1173V502H1171.75ZM1 500.75H1173V502H1ZM1 500.75" fill="#000"/>
<rect x="1087" y="217" width="29" height="2" fill="#5197DA"/>
<text x="1117.6" y="222.6" class="t">0.001</text>
<rect x="1087" y="243" width="29" height="2" fill="#F37A24"/>
<text x="1117.6" y="248.6" class="t">0.0025</text>
<rect x="1087" y="270" width="29" height="2" fill="#A4A4A4"/>
<text x="1117.6" y="275.6" class="t">0.0075</text>
<rect x="1087" y="296" width="29" height="2" fill="#FFC000"/>
<text x="1117.6" y="301.6" class="t">0.01</text>
<rect x="1087" y="323" width="29" height="2" fill="#4370C6"/>
<text x="1117.6" y="328.6" class="t">0.015</text>
<text x="76.4" y="62.8" text-anchor="end" class="t">-3.14</text>
<text x="76.4" y="103.1" text-anchor="end" class="t">-3.145</text>
<text x="76.4" y="143.4" text-anchor="end" class="t">-3.15</text>
<text x="76.4" y="183.7" text-anchor="end" class="t">-3.155</text>
<text x="76.4" y="224.0" text-anchor="end" class="t">-3.16</text>
<text x="76.4" y="264.3" text-anchor="end" class="t">-3.165</text>
<text x="76.4" y="304.6" text-anchor="end" class="t">-3.17</text>
<text x="76.4" y="344.9" text-anchor="end" class="t">-3.175</text>
<text x="76.4" y="385.2" text-anchor="end" class="t">-3.18</text>
<text x="76.4" y="425.5" text-anchor="end" class="t">-3.185</text>
<text x="76.4" y="465.8" text-anchor="end" class="t">-3.19</text>
<text x="88.0" y="78.9" text-anchor="middle" class="t">0</text>
<text x="185.1" y="78.9" text-anchor="middle" class="t">10</text>
<text x="281.6" y="78.9" text-anchor="middle" class="t">20</text>
<text x="378.1" y="78.9" text-anchor="middle" class="t">30</text>
<text x="474.6" y="78.9" text-anchor="middle" class="t">40</text>
<text x="571.1" y="78.9" text-anchor="middle" class="t">50</text>
<text x="667.6" y="78.9" text-anchor="middle" class="t">60</text>
<text x="764.1" y="78.9" text-anchor="middle" class="t">70</text>
<text x="860.6" y="78.9" text-anchor="middle" class="t">80</text>
<text x="957.1" y="78.9" text-anchor="middle" class="t">90</text>
<text x="1053.6" y="78.9" text-anchor="middle" class="t">100</text>
<text x="586.6" y="33.9" text-anchor="middle" class="ti">Time vs energy at varying timesteps</text>
<text x="613.6" y="483.7" text-anchor="middle" class="ax">Time/ seconds</text>
<text transform="translate(33.5 259.6) rotate(-90)" text-anchor="middle" class="ax">Energy/ reduced units</text>
</svg>
</body></html>
